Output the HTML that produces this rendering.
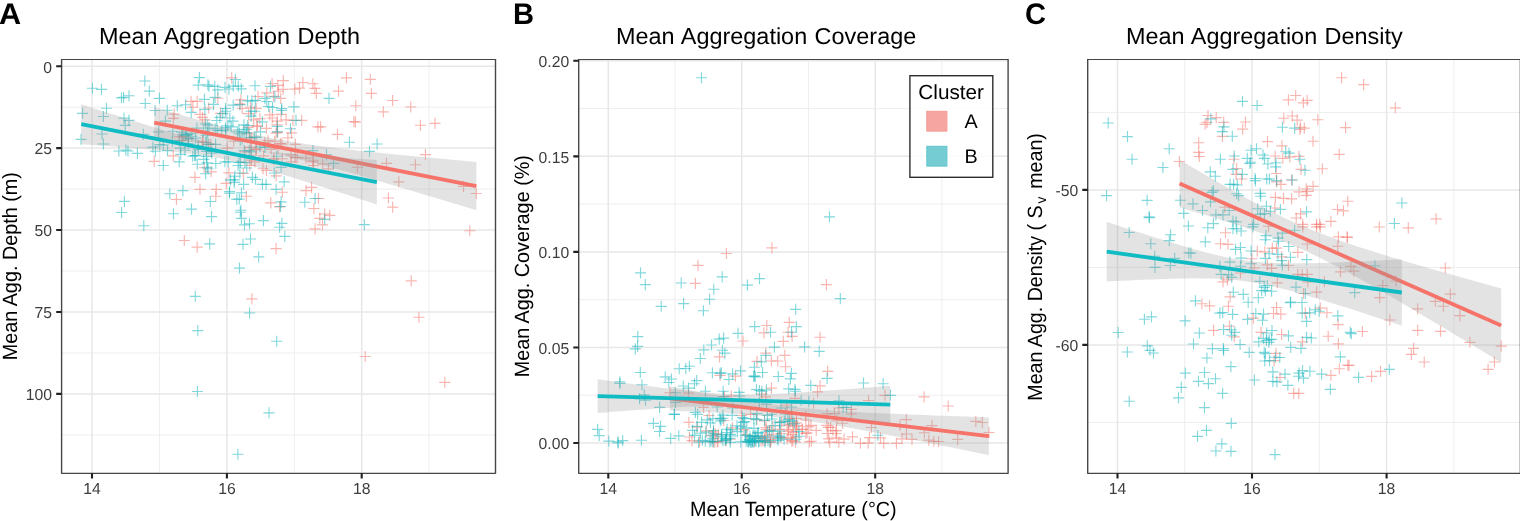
<!DOCTYPE html>
<html lang="en"><head><meta charset="utf-8"><title>Mean Aggregation vs Temperature</title>
<style>html,body{margin:0;padding:0;background:#fff;}body{width:1520px;height:521px;overflow:hidden;}svg{display:block;}</style>
</head><body>
<svg width="1520" height="521" viewBox="0 0 1520 521" font-family="&quot;Liberation Sans&quot;, Arial, Helvetica, sans-serif" text-rendering="geometricPrecision">
<rect x="0" y="0" width="1520" height="521" fill="#ffffff"/>
<g id="panelA">
<clipPath id="clipA"><rect x="61.6" y="59.7" width="433.9" height="413.5"/></clipPath>
<g clip-path="url(#clipA)">
<path d="M159.45 59.7V473.2M294.3 59.7V473.2M429.1 59.7V473.2M61.6 107.15H495.5M61.6 189.1H495.5M61.6 271H495.5M61.6 352.95H495.5M61.6 434.9H495.5" stroke="#eeeeee" stroke-width="1.0" fill="none"/>
<path d="M92 59.7V473.2M226.9 59.7V473.2M361.7 59.7V473.2M61.6 66.2H495.5M61.6 148.1H495.5M61.6 230.05H495.5M61.6 312H495.5M61.6 393.9H495.5" stroke="#e7e7e8" stroke-width="1.5" fill="none"/>
<g class="pts-a" fill="none" stroke="#F4756C" stroke-width="1.15" stroke-opacity="0.53">
<path d="M168.65 114.1h11.1M174.2 108.55v11.1"/>
<path d="M167.75 118.3h11.1M173.3 112.75v11.1"/>
<path d="M226.15 77.9h11.1M231.7 72.35v11.1"/>
<path d="M266.55 83.5h11.1M272.1 77.95v11.1"/>
<path d="M277.75 80.6h11.1M283.3 75.05v11.1"/>
<path d="M272.25 85.4h11.1M277.8 79.85v11.1"/>
<path d="M277.55 89.3h11.1M283.1 83.75v11.1"/>
<path d="M272.75 91.2h11.1M278.3 85.65v11.1"/>
<path d="M261.25 92.8h11.1M266.8 87.25v11.1"/>
<path d="M252.55 96.5h11.1M258.1 90.95v11.1"/>
<path d="M275.15 98.4h11.1M280.7 92.85v11.1"/>
<path d="M267.95 96.3h11.1M273.5 90.75v11.1"/>
<path d="M191.65 101.3h11.1M197.2 95.75v11.1"/>
<path d="M185.45 101.3h11.1M191 95.75v11.1"/>
<path d="M212.25 98.2h11.1M217.8 92.65v11.1"/>
<path d="M235.35 99.8h11.1M240.9 94.25v11.1"/>
<path d="M234.35 104.1h11.1M239.9 98.55v11.1"/>
<path d="M203.15 108h11.1M208.7 102.45v11.1"/>
<path d="M236.75 108.5h11.1M242.3 102.95v11.1"/>
<path d="M244.95 107.2h11.1M250.5 101.65v11.1"/>
<path d="M250.65 108.3h11.1M256.2 102.75v11.1"/>
<path d="M187.35 107.2h11.1M192.9 101.65v11.1"/>
<path d="M289.25 89.1h11.1M294.8 83.55v11.1"/>
<path d="M293.95 88.1h11.1M299.5 82.55v11.1"/>
<path d="M297.35 82.5h11.1M302.9 76.95v11.1"/>
<path d="M307.35 83.7h11.1M312.9 78.15v11.1"/>
<path d="M309.25 88.4h11.1M314.8 82.85v11.1"/>
<path d="M310.75 93.4h11.1M316.3 87.85v11.1"/>
<path d="M194.45 114.3h11.1M200 108.75v11.1"/>
<path d="M196.95 117.4h11.1M202.5 111.85v11.1"/>
<path d="M199.45 119.9h11.1M205 114.35v11.1"/>
<path d="M215.05 113.4h11.1M220.6 107.85v11.1"/>
<path d="M243.05 113.6h11.1M248.6 108.05v11.1"/>
<path d="M254.35 118.6h11.1M259.9 113.05v11.1"/>
<path d="M248.05 119.9h11.1M253.6 114.35v11.1"/>
<path d="M264.25 114.9h11.1M269.8 109.35v11.1"/>
<path d="M266.75 118h11.1M272.3 112.45v11.1"/>
<path d="M271.75 121.1h11.1M277.3 115.55v11.1"/>
<path d="M280.55 119.9h11.1M286.1 114.35v11.1"/>
<path d="M287.35 120.5h11.1M292.9 114.95v11.1"/>
<path d="M296.15 120.3h11.1M301.7 114.75v11.1"/>
<path d="M275.55 114.3h11.1M281.1 108.75v11.1"/>
<path d="M340.85 77.8h11.1M346.4 72.25v11.1"/>
<path d="M364.75 79.3h11.1M370.3 73.75v11.1"/>
<path d="M332.95 91.1h11.1M338.5 85.55v11.1"/>
<path d="M365.85 93.4h11.1M371.4 87.85v11.1"/>
<path d="M387.05 100.5h11.1M392.6 94.95v11.1"/>
<path d="M350.25 105.7h11.1M355.8 100.15v11.1"/>
<path d="M405.25 107h11.1M410.8 101.45v11.1"/>
<path d="M377.75 111.9h11.1M383.3 106.35v11.1"/>
<path d="M348.35 121.5h11.1M353.9 115.95v11.1"/>
<path d="M349.85 122.1h11.1M355.4 116.55v11.1"/>
<path d="M429.45 123.4h11.1M435 117.85v11.1"/>
<path d="M148.65 161.4h11.1M154.2 155.85v11.1"/>
<path d="M167.75 155.9h11.1M173.3 150.35v11.1"/>
<path d="M174.25 136.9h11.1M179.8 131.35v11.1"/>
<path d="M189.45 177.4h11.1M195 171.85v11.1"/>
<path d="M194.45 189.3h11.1M200 183.75v11.1"/>
<path d="M205.65 171.8h11.1M211.2 166.25v11.1"/>
<path d="M210.65 189.3h11.1M216.2 183.75v11.1"/>
<path d="M220.65 183.4h11.1M226.2 177.85v11.1"/>
<path d="M221.85 148.1h11.1M227.4 142.55v11.1"/>
<path d="M228.15 141.2h11.1M233.7 135.65v11.1"/>
<path d="M243.75 133.1h11.1M249.3 127.55v11.1"/>
<path d="M251.85 126.2h11.1M257.4 120.65v11.1"/>
<path d="M262.45 140.6h11.1M268 135.05v11.1"/>
<path d="M270.55 133.1h11.1M276.1 127.55v11.1"/>
<path d="M274.95 143.5h11.1M280.5 137.95v11.1"/>
<path d="M289.85 144.3h11.1M295.4 138.75v11.1"/>
<path d="M265.55 149.3h11.1M271.1 143.75v11.1"/>
<path d="M258.05 155.9h11.1M263.6 150.35v11.1"/>
<path d="M276.75 158.7h11.1M282.3 153.15v11.1"/>
<path d="M285.55 154.9h11.1M291.1 149.35v11.1"/>
<path d="M285.55 161.8h11.1M291.1 156.25v11.1"/>
<path d="M300.45 158.1h11.1M306 152.55v11.1"/>
<path d="M307.35 161.8h11.1M312.9 156.25v11.1"/>
<path d="M307.95 165.5h11.1M313.5 159.95v11.1"/>
<path d="M244.35 165.5h11.1M249.9 159.95v11.1"/>
<path d="M249.35 161.8h11.1M254.9 156.25v11.1"/>
<path d="M257.45 168.7h11.1M263 163.15v11.1"/>
<path d="M270.55 175.9h11.1M276.1 170.35v11.1"/>
<path d="M306.05 187.4h11.1M311.6 181.85v11.1"/>
<path d="M312.35 126.9h11.1M317.9 121.35v11.1"/>
<path d="M196.95 141.2h11.1M202.5 135.65v11.1"/>
<path d="M239.35 151.8h11.1M244.9 146.25v11.1"/>
<path d="M271.35 124.8h11.1M276.9 119.25v11.1"/>
<path d="M331.95 134.4h11.1M337.5 128.85v11.1"/>
<path d="M315.05 126.9h11.1M320.6 121.35v11.1"/>
<path d="M414.85 125.2h11.1M420.4 119.65v11.1"/>
<path d="M419.85 154.6h11.1M425.4 149.05v11.1"/>
<path d="M380.95 163.4h11.1M386.5 157.85v11.1"/>
<path d="M409.85 164.7h11.1M415.4 159.15v11.1"/>
<path d="M351.85 167.2h11.1M357.4 161.65v11.1"/>
<path d="M393.25 181.8h11.1M398.8 176.25v11.1"/>
<path d="M322.95 168.9h11.1M328.5 163.35v11.1"/>
<path d="M170.85 199.5h11.1M176.4 193.95v11.1"/>
<path d="M178.75 240.5h11.1M184.3 234.95v11.1"/>
<path d="M210.25 196.2h11.1M215.8 190.65v11.1"/>
<path d="M240.85 196.2h11.1M246.4 190.65v11.1"/>
<path d="M265.25 202.9h11.1M270.8 197.35v11.1"/>
<path d="M276.75 192.2h11.1M282.3 186.65v11.1"/>
<path d="M274.05 206.8h11.1M279.6 201.25v11.1"/>
<path d="M300.45 190.6h11.1M306 185.05v11.1"/>
<path d="M308.35 208.5h11.1M313.9 202.95v11.1"/>
<path d="M309.55 228.9h11.1M315.1 223.35v11.1"/>
<path d="M312.95 198.5h11.1M318.5 192.95v11.1"/>
<path d="M191.65 247.1h11.1M197.2 241.55v11.1"/>
<path d="M270.55 248.6h11.1M276.1 243.05v11.1"/>
<path d="M314.25 218.4h11.1M319.8 212.85v11.1"/>
<path d="M382.85 198h11.1M388.4 192.45v11.1"/>
<path d="M387.15 207.1h11.1M392.7 201.55v11.1"/>
<path d="M319.15 214h11.1M324.7 208.45v11.1"/>
<path d="M324.15 215.3h11.1M329.7 209.75v11.1"/>
<path d="M316.95 224.9h11.1M322.5 219.35v11.1"/>
<path d="M457.95 186.4h11.1M463.5 180.85v11.1"/>
<path d="M470.75 193.5h11.1M476.3 187.95v11.1"/>
<path d="M464.25 230.7h11.1M469.8 225.15v11.1"/>
<path d="M246.35 298.8h11.1M251.9 293.25v11.1"/>
<path d="M405.65 280.9h11.1M411.2 275.35v11.1"/>
<path d="M413.35 317.2h11.1M418.9 311.65v11.1"/>
<path d="M359.65 356.5h11.1M365.2 350.95v11.1"/>
<path d="M439.25 382.3h11.1M444.8 376.75v11.1"/>
<path d="M176.15 140.6h11.1M181.7 135.05v11.1"/>
<path d="M177.15 136.4h11.1M182.7 130.85v11.1"/>
<path d="M182.75 138.1h11.1M188.3 132.55v11.1"/>
<path d="M197.55 142.5h11.1M203.1 136.95v11.1"/>
<path d="M198.65 167.7h11.1M204.2 162.15v11.1"/>
<path d="M203.35 144.5h11.1M208.9 138.95v11.1"/>
<path d="M205.25 144.3h11.1M210.8 138.75v11.1"/>
<path d="M223.35 172.8h11.1M228.9 167.25v11.1"/>
<path d="M237.75 173.3h11.1M243.3 167.75v11.1"/>
<path d="M242.75 127.4h11.1M248.3 121.85v11.1"/>
<path d="M244.65 147.4h11.1M250.2 141.85v11.1"/>
<path d="M245.55 138.1h11.1M251.1 132.55v11.1"/>
<path d="M245.85 141.6h11.1M251.4 136.05v11.1"/>
<path d="M245.85 160.1h11.1M251.4 154.55v11.1"/>
<path d="M245.85 155.2h11.1M251.4 149.65v11.1"/>
<path d="M250.25 149.1h11.1M255.8 143.55v11.1"/>
<path d="M250.85 149.3h11.1M256.4 143.75v11.1"/>
<path d="M251.15 125.8h11.1M256.7 120.25v11.1"/>
<path d="M259.15 142.6h11.1M264.7 137.05v11.1"/>
<path d="M260.85 170.5h11.1M266.4 164.95v11.1"/>
<path d="M260.85 128.3h11.1M266.4 122.75v11.1"/>
<path d="M268.15 158.5h11.1M273.7 152.95v11.1"/>
<path d="M268.35 159.7h11.1M273.9 154.15v11.1"/>
<path d="M269.15 141.2h11.1M274.7 135.65v11.1"/>
<path d="M272.05 132.1h11.1M277.6 126.55v11.1"/>
<path d="M272.65 148.2h11.1M278.2 142.65v11.1"/>
<path d="M276.45 144.1h11.1M282 138.55v11.1"/>
<path d="M282.35 137.7h11.1M287.9 132.15v11.1"/>
<path d="M285.95 132.8h11.1M291.5 127.25v11.1"/>
<path d="M289.65 157.3h11.1M295.2 151.75v11.1"/>
<path d="M291.65 157.7h11.1M297.2 152.15v11.1"/>
<path d="M307.75 160.2h11.1M313.3 154.65v11.1"/>
<path d="M317.15 163.8h11.1M322.7 158.25v11.1"/>
</g>
<g class="pts-b" fill="none" stroke="#14B6BD" stroke-width="1.15" stroke-opacity="0.53">
<path d="M86.85 88.2h11.1M92.4 82.65v11.1"/>
<path d="M95.95 89.4h11.1M101.5 83.85v11.1"/>
<path d="M139.25 81h11.1M144.8 75.45v11.1"/>
<path d="M143.75 91.1h11.1M149.3 85.55v11.1"/>
<path d="M153.85 98.3h11.1M159.4 92.75v11.1"/>
<path d="M139.65 103.5h11.1M145.2 97.95v11.1"/>
<path d="M115.95 97.8h11.1M121.5 92.25v11.1"/>
<path d="M118.05 97.2h11.1M123.6 91.65v11.1"/>
<path d="M123.45 95.7h11.1M129 90.15v11.1"/>
<path d="M100.95 108.2h11.1M106.5 102.65v11.1"/>
<path d="M77.05 113.3h11.1M82.6 107.75v11.1"/>
<path d="M97.85 116.5h11.1M103.4 110.95v11.1"/>
<path d="M118.45 118.1h11.1M124 112.55v11.1"/>
<path d="M123.45 120.4h11.1M129 114.85v11.1"/>
<path d="M149.55 110.5h11.1M155.1 104.95v11.1"/>
<path d="M161.75 110.2h11.1M167.3 104.65v11.1"/>
<path d="M171.75 105.7h11.1M177.3 100.15v11.1"/>
<path d="M180.05 104.7h11.1M185.6 99.15v11.1"/>
<path d="M159.85 121.1h11.1M165.4 115.55v11.1"/>
<path d="M193.85 77.6h11.1M199.4 72.05v11.1"/>
<path d="M192.75 85.1h11.1M198.3 79.55v11.1"/>
<path d="M202.35 84.7h11.1M207.9 79.15v11.1"/>
<path d="M203.35 86.1h11.1M208.9 80.55v11.1"/>
<path d="M209.25 86.4h11.1M214.8 80.85v11.1"/>
<path d="M212.25 89.8h11.1M217.8 84.25v11.1"/>
<path d="M219.45 87.4h11.1M225 81.85v11.1"/>
<path d="M223.35 89h11.1M228.9 83.45v11.1"/>
<path d="M229.85 79.5h11.1M235.4 73.95v11.1"/>
<path d="M232.75 86.1h11.1M238.3 80.55v11.1"/>
<path d="M235.75 88.8h11.1M241.3 83.25v11.1"/>
<path d="M227.65 86.1h11.1M233.2 80.55v11.1"/>
<path d="M249.45 85.7h11.1M255 80.15v11.1"/>
<path d="M264.85 86.4h11.1M270.4 80.85v11.1"/>
<path d="M198.85 99.3h11.1M204.4 93.75v11.1"/>
<path d="M209.45 97.4h11.1M215 91.85v11.1"/>
<path d="M207.95 104.4h11.1M213.5 98.85v11.1"/>
<path d="M199.35 109.4h11.1M204.9 103.85v11.1"/>
<path d="M227.65 105.1h11.1M233.2 99.55v11.1"/>
<path d="M234.35 104.6h11.1M239.9 99.05v11.1"/>
<path d="M242.05 100.8h11.1M247.6 95.25v11.1"/>
<path d="M246.35 100.8h11.1M251.9 95.25v11.1"/>
<path d="M249.75 100.3h11.1M255.3 94.75v11.1"/>
<path d="M259.35 98.4h11.1M264.9 92.85v11.1"/>
<path d="M261.25 101.5h11.1M266.8 95.95v11.1"/>
<path d="M263.15 106.5h11.1M268.7 100.95v11.1"/>
<path d="M269.35 96.9h11.1M274.9 91.35v11.1"/>
<path d="M266.95 107.5h11.1M272.5 101.95v11.1"/>
<path d="M276.15 108.5h11.1M281.7 102.95v11.1"/>
<path d="M219.95 108.5h11.1M225.5 102.95v11.1"/>
<path d="M288.35 106.9h11.1M293.9 101.35v11.1"/>
<path d="M185.65 112.4h11.1M191.2 106.85v11.1"/>
<path d="M220.05 111.2h11.1M225.6 105.65v11.1"/>
<path d="M217.15 113.6h11.1M222.7 108.05v11.1"/>
<path d="M224.35 118h11.1M229.9 112.45v11.1"/>
<path d="M227.45 121.1h11.1M233 115.55v11.1"/>
<path d="M214.35 117.4h11.1M219.9 111.85v11.1"/>
<path d="M211.25 120.5h11.1M216.8 114.95v11.1"/>
<path d="M245.55 111.2h11.1M251.1 105.65v11.1"/>
<path d="M249.35 111.2h11.1M254.9 105.65v11.1"/>
<path d="M245.55 116.1h11.1M251.1 110.55v11.1"/>
<path d="M256.85 121.8h11.1M262.4 116.25v11.1"/>
<path d="M290.45 120.3h11.1M296 114.75v11.1"/>
<path d="M276.15 110.3h11.1M281.7 104.75v11.1"/>
<path d="M323.45 98.4h11.1M329 92.85v11.1"/>
<path d="M75.45 139.3h11.1M81 133.75v11.1"/>
<path d="M96.45 134h11.1M102 128.45v11.1"/>
<path d="M97.85 144h11.1M103.4 138.45v11.1"/>
<path d="M113.35 151h11.1M118.9 145.45v11.1"/>
<path d="M120.35 150h11.1M125.9 144.45v11.1"/>
<path d="M122.45 151h11.1M128 145.45v11.1"/>
<path d="M131.85 153.4h11.1M137.4 147.85v11.1"/>
<path d="M119.65 125.4h11.1M125.2 119.85v11.1"/>
<path d="M137.75 134.4h11.1M143.3 128.85v11.1"/>
<path d="M153.05 131.9h11.1M158.6 126.35v11.1"/>
<path d="M147.35 147.1h11.1M152.9 141.55v11.1"/>
<path d="M149.85 151.2h11.1M155.4 145.65v11.1"/>
<path d="M154.25 144.6h11.1M159.8 139.05v11.1"/>
<path d="M157.75 145h11.1M163.3 139.45v11.1"/>
<path d="M161.95 150.6h11.1M167.5 145.05v11.1"/>
<path d="M157.75 165.5h11.1M163.3 159.95v11.1"/>
<path d="M167.35 131.2h11.1M172.9 125.65v11.1"/>
<path d="M166.75 141.2h11.1M172.3 135.65v11.1"/>
<path d="M174.85 148.1h11.1M180.4 142.55v11.1"/>
<path d="M175.25 154.3h11.1M180.8 148.75v11.1"/>
<path d="M177.35 134.4h11.1M182.9 128.85v11.1"/>
<path d="M180.45 135h11.1M186 129.45v11.1"/>
<path d="M182.95 138.7h11.1M188.5 133.15v11.1"/>
<path d="M191.35 128.1h11.1M196.9 122.55v11.1"/>
<path d="M186.35 136.2h11.1M191.9 130.65v11.1"/>
<path d="M190.05 138.1h11.1M195.6 132.55v11.1"/>
<path d="M200.65 142.5h11.1M206.2 136.95v11.1"/>
<path d="M202.55 144.3h11.1M208.1 138.75v11.1"/>
<path d="M210.05 144.3h11.1M215.6 138.75v11.1"/>
<path d="M190.05 155.6h11.1M195.6 150.05v11.1"/>
<path d="M187.15 156.2h11.1M192.7 150.65v11.1"/>
<path d="M198.15 159.3h11.1M203.7 153.75v11.1"/>
<path d="M206.25 153.1h11.1M211.8 147.55v11.1"/>
<path d="M202.55 168.7h11.1M208.1 163.15v11.1"/>
<path d="M201.65 167.2h11.1M207.2 161.65v11.1"/>
<path d="M219.35 161.8h11.1M224.9 156.25v11.1"/>
<path d="M220.05 130h11.1M225.6 124.45v11.1"/>
<path d="M216.25 130.6h11.1M221.8 125.05v11.1"/>
<path d="M225.65 126.9h11.1M231.2 121.35v11.1"/>
<path d="M231.85 131.9h11.1M237.4 126.35v11.1"/>
<path d="M233.75 133.7h11.1M239.3 128.15v11.1"/>
<path d="M240.55 129.4h11.1M246.1 123.85v11.1"/>
<path d="M244.35 137.5h11.1M249.9 131.95v11.1"/>
<path d="M248.75 136.9h11.1M254.3 131.35v11.1"/>
<path d="M250.55 137.5h11.1M256.1 131.95v11.1"/>
<path d="M254.95 131.9h11.1M260.5 126.35v11.1"/>
<path d="M243.75 150.6h11.1M249.3 145.05v11.1"/>
<path d="M245.55 151.8h11.1M251.1 146.25v11.1"/>
<path d="M254.35 146.8h11.1M259.9 141.25v11.1"/>
<path d="M259.35 147.5h11.1M264.9 141.95v11.1"/>
<path d="M271.75 131.9h11.1M277.3 126.35v11.1"/>
<path d="M284.85 128.7h11.1M290.4 123.15v11.1"/>
<path d="M307.35 150.6h11.1M312.9 145.05v11.1"/>
<path d="M271.15 156.2h11.1M276.7 150.65v11.1"/>
<path d="M232.45 165.5h11.1M238 159.95v11.1"/>
<path d="M234.95 162.4h11.1M240.5 156.85v11.1"/>
<path d="M239.35 162.4h11.1M244.9 156.85v11.1"/>
<path d="M241.25 168h11.1M246.8 162.45v11.1"/>
<path d="M234.35 173h11.1M239.9 167.45v11.1"/>
<path d="M229.35 176.2h11.1M234.9 170.65v11.1"/>
<path d="M275.55 167.4h11.1M281.1 161.85v11.1"/>
<path d="M268.65 173h11.1M274.2 167.45v11.1"/>
<path d="M278.65 181.8h11.1M284.2 176.25v11.1"/>
<path d="M224.95 179.9h11.1M230.5 174.35v11.1"/>
<path d="M228.75 179.9h11.1M234.3 174.35v11.1"/>
<path d="M228.75 182.4h11.1M234.3 176.85v11.1"/>
<path d="M238.05 184.3h11.1M243.6 178.75v11.1"/>
<path d="M246.85 177.4h11.1M252.4 171.85v11.1"/>
<path d="M249.95 179.3h11.1M255.5 173.75v11.1"/>
<path d="M256.85 184.3h11.1M262.4 178.75v11.1"/>
<path d="M260.55 184.3h11.1M266.1 178.75v11.1"/>
<path d="M270.55 189.3h11.1M276.1 183.75v11.1"/>
<path d="M202.25 125.1h11.1M207.8 119.55v11.1"/>
<path d="M203.65 128h11.1M209.2 122.45v11.1"/>
<path d="M222.35 125.7h11.1M227.9 120.15v11.1"/>
<path d="M219.95 127.8h11.1M225.5 122.25v11.1"/>
<path d="M271.75 126.4h11.1M277.3 120.85v11.1"/>
<path d="M343.85 142.2h11.1M349.4 136.65v11.1"/>
<path d="M371.55 144h11.1M377.1 138.45v11.1"/>
<path d="M363.95 151.4h11.1M369.5 145.85v11.1"/>
<path d="M320.95 154.9h11.1M326.5 149.35v11.1"/>
<path d="M327.95 163.4h11.1M333.5 157.85v11.1"/>
<path d="M118.85 201.4h11.1M124.4 195.85v11.1"/>
<path d="M116.05 212.5h11.1M121.6 206.95v11.1"/>
<path d="M138.25 225.7h11.1M143.8 220.15v11.1"/>
<path d="M164.25 193.7h11.1M169.8 188.15v11.1"/>
<path d="M177.35 190.6h11.1M182.9 185.05v11.1"/>
<path d="M167.95 213.7h11.1M173.5 208.15v11.1"/>
<path d="M185.95 209.1h11.1M191.5 203.55v11.1"/>
<path d="M204.75 201.5h11.1M210.3 195.95v11.1"/>
<path d="M205.95 216.6h11.1M211.5 211.05v11.1"/>
<path d="M204.15 243.9h11.1M209.7 238.35v11.1"/>
<path d="M223.95 191.5h11.1M229.5 185.95v11.1"/>
<path d="M223.95 193.1h11.1M229.5 187.55v11.1"/>
<path d="M235.85 192.7h11.1M241.4 187.15v11.1"/>
<path d="M231.25 199.4h11.1M236.8 193.85v11.1"/>
<path d="M233.75 199h11.1M239.3 193.45v11.1"/>
<path d="M235.35 210.2h11.1M240.9 204.65v11.1"/>
<path d="M234.75 212.2h11.1M240.3 206.65v11.1"/>
<path d="M235.85 218.4h11.1M241.4 212.85v11.1"/>
<path d="M238.95 224.9h11.1M244.5 219.35v11.1"/>
<path d="M243.95 223.7h11.1M249.5 218.15v11.1"/>
<path d="M257.85 220.6h11.1M263.4 215.05v11.1"/>
<path d="M276.35 223.4h11.1M281.9 217.85v11.1"/>
<path d="M274.05 227.2h11.1M279.6 221.65v11.1"/>
<path d="M275.55 201.9h11.1M281.1 196.35v11.1"/>
<path d="M274.95 206.5h11.1M280.5 200.95v11.1"/>
<path d="M279.25 236.4h11.1M284.8 230.85v11.1"/>
<path d="M244.95 239h11.1M250.5 233.45v11.1"/>
<path d="M237.45 244.3h11.1M243 238.75v11.1"/>
<path d="M299.25 202.2h11.1M304.8 196.65v11.1"/>
<path d="M309.55 198.5h11.1M315.1 192.95v11.1"/>
<path d="M319.15 219.3h11.1M324.7 213.75v11.1"/>
<path d="M358.75 224.6h11.1M364.3 219.05v11.1"/>
<path d="M189.75 296.3h11.1M195.3 290.75v11.1"/>
<path d="M192.25 330.6h11.1M197.8 325.05v11.1"/>
<path d="M233.95 268.1h11.1M239.5 262.55v11.1"/>
<path d="M244.05 313h11.1M249.6 307.45v11.1"/>
<path d="M253.15 256.9h11.1M258.7 251.35v11.1"/>
<path d="M271.15 341.2h11.1M276.7 335.65v11.1"/>
<path d="M191.85 391.5h11.1M197.4 385.95v11.1"/>
<path d="M232.35 454.2h11.1M237.9 448.65v11.1"/>
<path d="M263.45 412.8h11.1M269 407.25v11.1"/>
<path d="M173.65 140.7h11.1M179.2 135.15v11.1"/>
<path d="M173.65 161.8h11.1M179.2 156.25v11.1"/>
<path d="M176.05 132.2h11.1M181.6 126.65v11.1"/>
<path d="M179.45 150.2h11.1M185 144.65v11.1"/>
<path d="M179.65 135.5h11.1M185.2 129.95v11.1"/>
<path d="M181.55 134.5h11.1M187.1 128.95v11.1"/>
<path d="M182.55 143.6h11.1M188.1 138.05v11.1"/>
<path d="M184.45 133.6h11.1M190 128.05v11.1"/>
<path d="M189.05 155.5h11.1M194.6 149.95v11.1"/>
<path d="M191.75 164.2h11.1M197.3 158.65v11.1"/>
<path d="M192.55 145.8h11.1M198.1 140.25v11.1"/>
<path d="M192.75 149.3h11.1M198.3 143.75v11.1"/>
<path d="M197.75 132.1h11.1M203.3 126.55v11.1"/>
<path d="M200.05 173.7h11.1M205.6 168.15v11.1"/>
<path d="M200.15 123.8h11.1M205.7 118.25v11.1"/>
<path d="M200.45 135.2h11.1M206 129.65v11.1"/>
<path d="M200.85 151.3h11.1M206.4 145.75v11.1"/>
<path d="M200.85 156.4h11.1M206.4 150.85v11.1"/>
<path d="M201.45 162.9h11.1M207 157.35v11.1"/>
<path d="M202.15 133.3h11.1M207.7 127.75v11.1"/>
<path d="M205.85 151.4h11.1M211.4 145.85v11.1"/>
<path d="M209.65 128.7h11.1M215.2 123.15v11.1"/>
<path d="M210.25 163.5h11.1M215.8 157.95v11.1"/>
<path d="M211.65 130.4h11.1M217.2 124.85v11.1"/>
<path d="M222.75 161.9h11.1M228.3 156.35v11.1"/>
<path d="M233.45 162.3h11.1M239 156.75v11.1"/>
<path d="M233.45 130h11.1M239 124.45v11.1"/>
<path d="M234.65 140.7h11.1M240.2 135.15v11.1"/>
<path d="M236.55 139.2h11.1M242.1 133.65v11.1"/>
<path d="M238.45 131.8h11.1M244 126.25v11.1"/>
<path d="M238.45 124.8h11.1M244 119.25v11.1"/>
<path d="M238.65 150.6h11.1M244.2 145.05v11.1"/>
<path d="M240.85 132.9h11.1M246.4 127.35v11.1"/>
<path d="M242.15 125.5h11.1M247.7 119.95v11.1"/>
</g>
<path d="M154.21 107.02L162.26 109.39L170.32 111.75L178.37 114.09L186.43 116.41L194.48 118.7L202.54 120.96L210.59 123.19L218.64 125.38L226.7 127.51L234.75 129.59L242.81 131.59L250.86 133.52L258.92 135.35L266.97 137.08L275.02 138.71L283.08 140.23L291.13 141.65L299.19 142.96L307.24 144.19L315.3 145.34L323.35 146.43L331.4 147.45L339.46 148.43L347.51 149.37L355.57 150.27L363.62 151.14L371.68 151.99L379.73 152.82L387.78 153.64L395.84 154.44L403.89 155.22L411.95 156L420 156.76L428.06 157.52L436.11 158.27L444.17 159.02L452.22 159.76L460.27 160.49L468.33 161.22L476.38 161.95L476.38 210.25L468.33 207.81L460.27 205.36L452.22 202.92L444.17 200.48L436.11 198.05L428.06 195.63L420 193.21L411.95 190.8L403.89 188.4L395.84 186.01L387.78 183.64L379.73 181.28L371.68 178.93L363.62 176.61L355.57 174.31L347.51 172.03L339.46 169.8L331.4 167.6L323.35 165.45L315.3 163.36L307.24 161.33L299.19 159.39L291.13 157.53L283.08 155.77L275.02 154.11L266.97 152.57L258.92 151.12L250.86 149.78L242.81 148.53L234.75 147.36L226.7 146.26L218.64 145.22L210.59 144.23L202.54 143.29L194.48 142.38L186.43 141.49L178.37 140.64L170.32 139.8L162.26 138.99L154.21 138.18Z" fill="#999999" fill-opacity="0.275"/>
<line x1="154.21" y1="122.6" x2="476.38" y2="186.1" stroke="#F6736A" stroke-width="3.8"/>
<path d="M81.22 104.27L88.61 106.65L96 109.02L103.39 111.39L110.78 113.74L118.17 116.09L125.56 118.42L132.95 120.74L140.34 123.04L147.73 125.31L155.12 127.56L162.51 129.77L169.9 131.94L177.29 134.06L184.68 136.11L192.07 138.09L199.46 139.96L206.85 141.72L214.24 143.36L221.63 144.85L229.02 146.2L236.41 147.41L243.81 148.49L251.2 149.48L258.59 150.37L265.98 151.18L273.37 151.94L280.76 152.65L288.15 153.32L295.54 153.96L302.93 154.58L310.32 155.17L317.71 155.75L325.1 156.31L332.49 156.86L339.88 157.4L347.27 157.93L354.66 158.45L362.05 158.97L369.44 159.48L376.83 159.98L376.83 204.42L369.44 202.02L362.05 199.63L354.66 197.25L347.27 194.87L339.88 192.5L332.49 190.14L325.1 187.79L317.71 185.45L310.32 183.13L302.93 180.82L295.54 178.54L288.15 176.28L280.76 174.05L273.37 171.86L265.98 169.72L258.59 167.63L251.2 165.62L243.81 163.71L236.41 161.89L229.02 160.2L221.63 158.65L214.24 157.24L206.85 155.98L199.46 154.84L192.07 153.81L184.68 152.89L177.29 152.04L169.9 151.26L162.51 150.53L155.12 149.84L147.73 149.19L140.34 148.56L132.95 147.96L125.56 147.38L118.17 146.81L110.78 146.26L103.39 145.71L96 145.18L88.61 144.65L81.22 144.13Z" fill="#999999" fill-opacity="0.275"/>
<line x1="81.22" y1="124.2" x2="376.83" y2="182.2" stroke="#10BCC3" stroke-width="3.8"/>
</g>
<path d="M61.6 58.9V473.85M495.5 58.9V473.85" fill="none" stroke="#464646" stroke-width="1.4"/>
<path d="M61.6 59.4H495.5M61.6 473.35H495.5" fill="none" stroke="#464646" stroke-width="1.05"/>
<path d="M92 473.2v5.4M226.9 473.2v5.4M361.7 473.2v5.4M61.6 66.2h-5.4M61.6 148.1h-5.4M61.6 230.05h-5.4M61.6 312h-5.4M61.6 393.9h-5.4" stroke="#202020" stroke-width="2.1" fill="none"/>
<g font-size="15.9" fill="#3d3d3d">
<text transform="translate(92,493.7) scale(0.99,1)" text-anchor="middle">14</text>
<text transform="translate(226.9,493.7) scale(0.99,1)" text-anchor="middle">16</text>
<text transform="translate(361.7,493.7) scale(0.99,1)" text-anchor="middle">18</text>
<text transform="translate(52.1,72.5) scale(0.99,1)" text-anchor="end">0</text>
<text transform="translate(52.1,154.4) scale(0.99,1)" text-anchor="end">25</text>
<text transform="translate(52.1,236.35) scale(0.99,1)" text-anchor="end">50</text>
<text transform="translate(52.1,318.3) scale(0.99,1)" text-anchor="end">75</text>
<text transform="translate(52.1,400.2) scale(0.99,1)" text-anchor="end">100</text>
</g>
</g>
<g id="panelB">
<clipPath id="clipB"><rect x="578.7" y="59.7" width="429.4" height="413.5"/></clipPath>
<g clip-path="url(#clipB)">
<path d="M675 59.7V473.2M808.5 59.7V473.2M941.9 59.7V473.2M578.7 395.2H1008.1M578.7 299.7H1008.1M578.7 204.1H1008.1M578.7 108.6H1008.1" stroke="#eeeeee" stroke-width="1.0" fill="none"/>
<path d="M608.3 59.7V473.2M741.75 59.7V473.2M875.2 59.7V473.2M578.7 443H1008.1M578.7 347.45H1008.1M578.7 251.9H1008.1M578.7 156.35H1008.1M578.7 60.8H1008.1" stroke="#e7e7e8" stroke-width="1.5" fill="none"/>
<g class="pts-a" fill="none" stroke="#F4756C" stroke-width="1.15" stroke-opacity="0.53">
<path d="M720.85 253.5h11.1M726.4 247.95v11.1"/>
<path d="M766.35 247.9h11.1M771.9 242.35v11.1"/>
<path d="M692.45 265.4h11.1M698 259.85v11.1"/>
<path d="M689.85 283.4h11.1M695.4 277.85v11.1"/>
<path d="M761.25 325.5h11.1M766.8 319.95v11.1"/>
<path d="M758.35 332.9h11.1M763.9 327.35v11.1"/>
<path d="M737.45 341h11.1M743 335.45v11.1"/>
<path d="M713.95 356.9h11.1M719.5 351.35v11.1"/>
<path d="M760.25 353.1h11.1M765.8 347.55v11.1"/>
<path d="M820.85 284.6h11.1M826.4 279.05v11.1"/>
<path d="M783.65 322.4h11.1M789.2 316.85v11.1"/>
<path d="M782.55 332.2h11.1M788.1 326.65v11.1"/>
<path d="M786.55 336.4h11.1M792.1 330.85v11.1"/>
<path d="M814.55 337.2h11.1M820.1 331.65v11.1"/>
<path d="M777.75 341.4h11.1M783.3 335.85v11.1"/>
<path d="M779.25 355.4h11.1M784.8 349.85v11.1"/>
<path d="M664.25 392.7h11.1M669.8 387.15v11.1"/>
<path d="M682.95 393.1h11.1M688.5 387.55v11.1"/>
<path d="M683.35 422.4h11.1M688.9 416.85v11.1"/>
<path d="M697.95 407.4h11.1M703.5 401.85v11.1"/>
<path d="M703.55 415.5h11.1M709.1 409.95v11.1"/>
<path d="M714.55 375.4h11.1M720.1 369.85v11.1"/>
<path d="M729.85 376.1h11.1M735.4 370.55v11.1"/>
<path d="M751.45 361.4h11.1M757 355.85v11.1"/>
<path d="M765.85 361h11.1M771.4 355.45v11.1"/>
<path d="M772.15 361h11.1M777.7 355.45v11.1"/>
<path d="M779.95 366.7h11.1M785.5 361.15v11.1"/>
<path d="M765.85 388.1h11.1M771.4 382.55v11.1"/>
<path d="M756.25 394.1h11.1M761.8 388.55v11.1"/>
<path d="M760.15 396.9h11.1M765.7 391.35v11.1"/>
<path d="M725.75 396h11.1M731.3 390.45v11.1"/>
<path d="M718.85 396.5h11.1M724.4 390.95v11.1"/>
<path d="M789.35 398.4h11.1M794.9 392.85v11.1"/>
<path d="M781.25 405.1h11.1M786.8 399.55v11.1"/>
<path d="M822.05 371.3h11.1M827.6 365.75v11.1"/>
<path d="M814.55 385.9h11.1M820.1 380.35v11.1"/>
<path d="M811.95 391.9h11.1M817.5 386.35v11.1"/>
<path d="M862.95 400.5h11.1M868.5 394.95v11.1"/>
<path d="M879.45 395.3h11.1M885 389.75v11.1"/>
<path d="M808.05 403.2h11.1M813.6 397.65v11.1"/>
<path d="M833.25 408h11.1M838.8 402.45v11.1"/>
<path d="M845.75 409.4h11.1M851.3 403.85v11.1"/>
<path d="M845.75 414h11.1M851.3 408.45v11.1"/>
<path d="M821.55 413.8h11.1M827.1 408.25v11.1"/>
<path d="M837.05 423.2h11.1M842.6 417.65v11.1"/>
<path d="M865.85 427.5h11.1M871.4 421.95v11.1"/>
<path d="M810.65 430.4h11.1M816.2 424.85v11.1"/>
<path d="M805.45 425.4h11.1M811 419.85v11.1"/>
<path d="M822.65 427.3h11.1M828.2 421.75v11.1"/>
<path d="M821.75 433.5h11.1M827.3 427.95v11.1"/>
<path d="M827.45 430.6h11.1M833 425.05v11.1"/>
<path d="M830.85 430.6h11.1M836.4 425.05v11.1"/>
<path d="M830.35 433.5h11.1M835.9 427.95v11.1"/>
<path d="M823.15 438.8h11.1M828.7 433.25v11.1"/>
<path d="M824.15 442.1h11.1M829.7 436.55v11.1"/>
<path d="M805.85 441.2h11.1M811.4 435.65v11.1"/>
<path d="M833.25 442.3h11.1M838.8 436.75v11.1"/>
<path d="M838.55 439.1h11.1M844.1 433.55v11.1"/>
<path d="M846.95 436.9h11.1M852.5 431.35v11.1"/>
<path d="M854.85 443.3h11.1M860.4 437.75v11.1"/>
<path d="M862.55 443.1h11.1M868.1 437.55v11.1"/>
<path d="M863.95 437.6h11.1M869.5 432.05v11.1"/>
<path d="M878.15 443.3h11.1M883.7 437.75v11.1"/>
<path d="M874.95 437.8h11.1M880.5 432.25v11.1"/>
<path d="M890.85 443.4h11.1M896.4 437.85v11.1"/>
<path d="M894.45 425.4h11.1M900 419.85v11.1"/>
<path d="M900.75 419.6h11.1M906.3 414.05v11.1"/>
<path d="M900.85 434h11.1M906.4 428.45v11.1"/>
<path d="M896.55 438.8h11.1M902.1 433.25v11.1"/>
<path d="M918.55 396.9h11.1M924.1 391.35v11.1"/>
<path d="M942.65 406h11.1M948.2 400.45v11.1"/>
<path d="M926.35 425.6h11.1M931.9 420.05v11.1"/>
<path d="M918.85 432.7h11.1M924.4 427.15v11.1"/>
<path d="M923.25 440.1h11.1M928.8 434.55v11.1"/>
<path d="M928.35 441.3h11.1M933.9 435.75v11.1"/>
<path d="M933.05 441.5h11.1M938.6 435.95v11.1"/>
<path d="M952.15 439.4h11.1M957.7 433.85v11.1"/>
<path d="M970.25 421.4h11.1M975.8 415.85v11.1"/>
<path d="M976.75 422.5h11.1M982.3 416.95v11.1"/>
<path d="M983.45 432.5h11.1M989 426.95v11.1"/>
<path d="M906.45 439.4h11.1M912 433.85v11.1"/>
<path d="M683.85 437h11.1M689.4 431.45v11.1"/>
<path d="M686.45 440.6h11.1M692 435.05v11.1"/>
<path d="M691.55 427.1h11.1M697.1 421.55v11.1"/>
<path d="M694.05 441.7h11.1M699.6 436.15v11.1"/>
<path d="M700.65 430.9h11.1M706.2 425.35v11.1"/>
<path d="M706.75 435.9h11.1M712.3 430.35v11.1"/>
<path d="M707.35 441.9h11.1M712.9 436.35v11.1"/>
<path d="M708.05 431.8h11.1M713.6 426.25v11.1"/>
<path d="M709.25 442.1h11.1M714.8 436.55v11.1"/>
<path d="M709.85 434h11.1M715.4 428.45v11.1"/>
<path d="M711.75 441.8h11.1M717.3 436.25v11.1"/>
<path d="M712.35 441.5h11.1M717.9 435.95v11.1"/>
<path d="M712.75 434.3h11.1M718.3 428.75v11.1"/>
<path d="M718.15 420.5h11.1M723.7 414.95v11.1"/>
<path d="M720.35 441h11.1M725.9 435.45v11.1"/>
<path d="M724.75 439.2h11.1M730.3 433.65v11.1"/>
<path d="M726.95 427.9h11.1M732.5 422.35v11.1"/>
<path d="M735.85 415.5h11.1M741.4 409.95v11.1"/>
<path d="M738.35 429.6h11.1M743.9 424.05v11.1"/>
<path d="M741.45 435.1h11.1M747 429.55v11.1"/>
<path d="M745.05 414.3h11.1M750.6 408.75v11.1"/>
<path d="M748.85 442h11.1M754.4 436.45v11.1"/>
<path d="M751.35 419.2h11.1M756.9 413.65v11.1"/>
<path d="M752.55 437.8h11.1M758.1 432.25v11.1"/>
<path d="M755.55 440.7h11.1M761.1 435.15v11.1"/>
<path d="M757.45 441.1h11.1M763 435.55v11.1"/>
<path d="M758.75 437.3h11.1M764.3 431.75v11.1"/>
<path d="M759.05 420.9h11.1M764.6 415.35v11.1"/>
<path d="M759.35 440.1h11.1M764.9 434.55v11.1"/>
<path d="M760.55 429.4h11.1M766.1 423.85v11.1"/>
<path d="M760.55 427.5h11.1M766.1 421.95v11.1"/>
<path d="M760.55 435.7h11.1M766.1 430.15v11.1"/>
<path d="M763.95 430.5h11.1M769.5 424.95v11.1"/>
<path d="M764.75 441.8h11.1M770.3 436.25v11.1"/>
<path d="M764.95 441.9h11.1M770.5 436.35v11.1"/>
<path d="M765.55 439.6h11.1M771.1 434.05v11.1"/>
<path d="M767.35 426h11.1M772.9 420.45v11.1"/>
<path d="M767.65 434.2h11.1M773.2 428.65v11.1"/>
<path d="M772.35 437.2h11.1M777.9 431.65v11.1"/>
<path d="M773.75 429.3h11.1M779.3 423.75v11.1"/>
<path d="M775.45 433.5h11.1M781 427.95v11.1"/>
<path d="M775.45 437.5h11.1M781 431.95v11.1"/>
<path d="M776.05 421.8h11.1M781.6 416.25v11.1"/>
<path d="M781.55 425.4h11.1M787.1 419.85v11.1"/>
<path d="M781.55 438.8h11.1M787.1 433.25v11.1"/>
<path d="M782.65 429.7h11.1M788.2 424.15v11.1"/>
<path d="M782.85 431.3h11.1M788.4 425.75v11.1"/>
<path d="M784.25 418.6h11.1M789.8 413.05v11.1"/>
<path d="M784.35 424.2h11.1M789.9 418.65v11.1"/>
<path d="M784.75 437.8h11.1M790.3 432.25v11.1"/>
<path d="M785.95 414.2h11.1M791.5 408.65v11.1"/>
<path d="M786.25 441.1h11.1M791.8 435.55v11.1"/>
<path d="M786.55 434.5h11.1M792.1 428.95v11.1"/>
<path d="M787.15 423.2h11.1M792.7 417.65v11.1"/>
<path d="M787.25 440.6h11.1M792.8 435.05v11.1"/>
<path d="M788.05 432.4h11.1M793.6 426.85v11.1"/>
<path d="M789.95 442.1h11.1M795.5 436.55v11.1"/>
<path d="M790.05 426.5h11.1M795.6 420.95v11.1"/>
<path d="M790.85 422.9h11.1M796.4 417.35v11.1"/>
<path d="M790.85 429.7h11.1M796.4 424.15v11.1"/>
<path d="M790.85 418.5h11.1M796.4 412.95v11.1"/>
<path d="M790.85 437.2h11.1M796.4 431.65v11.1"/>
<path d="M791.45 425.5h11.1M797 419.95v11.1"/>
<path d="M796.65 429h11.1M802.2 423.45v11.1"/>
<path d="M796.75 429.5h11.1M802.3 423.95v11.1"/>
<path d="M800.25 433.4h11.1M805.8 427.85v11.1"/>
<path d="M800.25 420h11.1M805.8 414.45v11.1"/>
<path d="M800.25 415.7h11.1M805.8 410.15v11.1"/>
<path d="M801.45 432.8h11.1M807 427.25v11.1"/>
<path d="M803.25 426.6h11.1M808.8 421.05v11.1"/>
<path d="M803.85 441.9h11.1M809.4 436.35v11.1"/>
<path d="M821.25 425.3h11.1M826.8 419.75v11.1"/>
<path d="M825.05 427.2h11.1M830.6 421.65v11.1"/>
<path d="M828.95 413.6h11.1M834.5 408.05v11.1"/>
<path d="M831.15 420.7h11.1M836.7 415.15v11.1"/>
<path d="M831.15 437.9h11.1M836.7 432.35v11.1"/>
</g>
<g class="pts-b" fill="none" stroke="#14B6BD" stroke-width="1.15" stroke-opacity="0.53">
<path d="M695.95 77.7h11.1M701.5 72.15v11.1"/>
<path d="M823.95 216.8h11.1M829.5 211.25v11.1"/>
<path d="M634.95 272.9h11.1M640.5 267.35v11.1"/>
<path d="M639.75 284.6h11.1M645.3 279.05v11.1"/>
<path d="M675.65 283h11.1M681.2 277.45v11.1"/>
<path d="M716.65 276.9h11.1M722.2 271.35v11.1"/>
<path d="M708.25 289.2h11.1M713.8 283.65v11.1"/>
<path d="M704.05 299.2h11.1M709.6 293.65v11.1"/>
<path d="M678.05 303.6h11.1M683.6 298.05v11.1"/>
<path d="M655.65 306.3h11.1M661.2 300.75v11.1"/>
<path d="M697.85 310.7h11.1M703.4 305.15v11.1"/>
<path d="M741.85 285.1h11.1M747.4 279.55v11.1"/>
<path d="M753.95 278.6h11.1M759.5 273.05v11.1"/>
<path d="M632.25 336.6h11.1M637.8 331.05v11.1"/>
<path d="M632.05 346.4h11.1M637.6 340.85v11.1"/>
<path d="M629.75 348.9h11.1M635.3 343.35v11.1"/>
<path d="M749.15 326.6h11.1M754.7 321.05v11.1"/>
<path d="M765.05 332.2h11.1M770.6 326.65v11.1"/>
<path d="M732.45 333.3h11.1M738 327.75v11.1"/>
<path d="M718.05 338.1h11.1M723.6 332.55v11.1"/>
<path d="M713.65 339.1h11.1M719.2 333.55v11.1"/>
<path d="M705.95 345h11.1M711.5 339.45v11.1"/>
<path d="M698.25 349.8h11.1M703.8 344.25v11.1"/>
<path d="M716.85 350.2h11.1M722.4 344.65v11.1"/>
<path d="M719.35 353.1h11.1M724.9 347.55v11.1"/>
<path d="M694.75 358.5h11.1M700.3 352.95v11.1"/>
<path d="M768.85 347.1h11.1M774.4 341.55v11.1"/>
<path d="M760.25 355.4h11.1M765.8 349.85v11.1"/>
<path d="M834.75 298.6h11.1M840.3 293.05v11.1"/>
<path d="M790.15 309.3h11.1M795.7 303.75v11.1"/>
<path d="M790.75 326.6h11.1M796.3 321.05v11.1"/>
<path d="M785.95 332.2h11.1M791.5 326.65v11.1"/>
<path d="M799.05 346.9h11.1M804.6 341.35v11.1"/>
<path d="M813.65 351.4h11.1M819.2 345.85v11.1"/>
<path d="M634.75 372.5h11.1M640.3 366.95v11.1"/>
<path d="M614.35 381.8h11.1M619.9 376.25v11.1"/>
<path d="M614.35 383.5h11.1M619.9 377.95v11.1"/>
<path d="M636.45 384.7h11.1M642 379.15v11.1"/>
<path d="M638.75 394.9h11.1M644.3 389.35v11.1"/>
<path d="M634.05 398.7h11.1M639.6 393.15v11.1"/>
<path d="M639.95 400.2h11.1M645.5 394.65v11.1"/>
<path d="M654.05 407.4h11.1M659.6 401.85v11.1"/>
<path d="M659.65 376.8h11.1M665.2 371.25v11.1"/>
<path d="M663.25 382.5h11.1M668.8 376.95v11.1"/>
<path d="M665.85 379h11.1M671.4 373.45v11.1"/>
<path d="M673.65 368.7h11.1M679.2 363.15v11.1"/>
<path d="M680.25 368.5h11.1M685.8 362.95v11.1"/>
<path d="M683.85 366.2h11.1M689.4 360.65v11.1"/>
<path d="M677.75 386h11.1M683.3 380.45v11.1"/>
<path d="M682.95 388.1h11.1M688.5 382.55v11.1"/>
<path d="M688.95 383.7h11.1M694.5 378.15v11.1"/>
<path d="M691.15 380.6h11.1M696.7 375.05v11.1"/>
<path d="M669.85 392.7h11.1M675.4 387.15v11.1"/>
<path d="M669.85 402.4h11.1M675.4 396.85v11.1"/>
<path d="M668.85 414.4h11.1M674.4 408.85v11.1"/>
<path d="M699.85 391.2h11.1M705.4 385.65v11.1"/>
<path d="M689.85 412.4h11.1M695.4 406.85v11.1"/>
<path d="M692.05 414.3h11.1M697.6 408.75v11.1"/>
<path d="M647.85 423.4h11.1M653.4 417.85v11.1"/>
<path d="M696.05 422.4h11.1M701.6 416.85v11.1"/>
<path d="M701.75 419.9h11.1M707.3 414.35v11.1"/>
<path d="M706.85 372.7h11.1M712.4 367.15v11.1"/>
<path d="M715.75 372.7h11.1M721.3 367.15v11.1"/>
<path d="M714.55 373.4h11.1M720.1 367.85v11.1"/>
<path d="M727.05 373.9h11.1M732.6 368.35v11.1"/>
<path d="M723.35 379.5h11.1M728.9 373.95v11.1"/>
<path d="M734.95 370.8h11.1M740.5 365.25v11.1"/>
<path d="M717.55 391.2h11.1M723.1 385.65v11.1"/>
<path d="M733.55 392.3h11.1M739.1 386.75v11.1"/>
<path d="M748.85 367.2h11.1M754.4 361.65v11.1"/>
<path d="M755.75 361.9h11.1M761.3 356.35v11.1"/>
<path d="M757.05 372.5h11.1M762.6 366.95v11.1"/>
<path d="M748.85 375.8h11.1M754.4 370.25v11.1"/>
<path d="M749.75 376.8h11.1M755.3 371.25v11.1"/>
<path d="M748.15 376.5h11.1M753.7 370.95v11.1"/>
<path d="M772.75 376.5h11.1M778.3 370.95v11.1"/>
<path d="M785.85 373.4h11.1M791.4 367.85v11.1"/>
<path d="M784.85 378.9h11.1M790.4 373.35v11.1"/>
<path d="M750.85 389.5h11.1M756.4 383.95v11.1"/>
<path d="M753.85 390.5h11.1M759.4 384.95v11.1"/>
<path d="M756.25 391.2h11.1M761.8 385.65v11.1"/>
<path d="M760.85 389.8h11.1M766.4 384.25v11.1"/>
<path d="M783.15 388.8h11.1M788.7 383.25v11.1"/>
<path d="M789.35 389.3h11.1M794.9 383.75v11.1"/>
<path d="M789.85 391.2h11.1M795.4 385.65v11.1"/>
<path d="M711.65 407h11.1M717.2 401.45v11.1"/>
<path d="M727.05 408h11.1M732.6 402.45v11.1"/>
<path d="M717.85 396.5h11.1M723.4 390.95v11.1"/>
<path d="M734.25 396h11.1M739.8 390.45v11.1"/>
<path d="M753.85 402.2h11.1M759.4 396.65v11.1"/>
<path d="M761.05 404.1h11.1M766.6 398.55v11.1"/>
<path d="M795.65 400.3h11.1M801.2 394.75v11.1"/>
<path d="M803.25 401.3h11.1M808.8 395.75v11.1"/>
<path d="M775.45 408h11.1M781 402.45v11.1"/>
<path d="M786.05 407h11.1M791.6 401.45v11.1"/>
<path d="M592.05 429.3h11.1M597.6 423.75v11.1"/>
<path d="M593.65 435.6h11.1M599.2 430.05v11.1"/>
<path d="M603.25 441.1h11.1M608.8 435.55v11.1"/>
<path d="M612.35 441.9h11.1M617.9 436.35v11.1"/>
<path d="M612.65 443h11.1M618.2 437.45v11.1"/>
<path d="M617.15 440.6h11.1M622.7 435.05v11.1"/>
<path d="M635.85 440.2h11.1M641.4 434.65v11.1"/>
<path d="M655.05 426.4h11.1M660.6 420.85v11.1"/>
<path d="M653.95 431.5h11.1M659.5 425.95v11.1"/>
<path d="M665.15 438.4h11.1M670.7 432.85v11.1"/>
<path d="M673.25 435.8h11.1M678.8 430.25v11.1"/>
<path d="M668.75 414.3h11.1M674.3 408.75v11.1"/>
<path d="M687.05 430.4h11.1M692.6 424.85v11.1"/>
<path d="M700.45 432.1h11.1M706 426.55v11.1"/>
<path d="M821.55 378.4h11.1M827.1 372.85v11.1"/>
<path d="M805.25 385.4h11.1M810.8 379.85v11.1"/>
<path d="M857.95 383h11.1M863.5 377.45v11.1"/>
<path d="M877.55 383.7h11.1M883.1 378.15v11.1"/>
<path d="M884.85 395.3h11.1M890.4 389.75v11.1"/>
<path d="M833.45 400.8h11.1M839 395.25v11.1"/>
<path d="M840.95 407.5h11.1M846.5 401.95v11.1"/>
<path d="M837.55 407.5h11.1M843.1 401.95v11.1"/>
<path d="M872.35 435.2h11.1M877.9 429.65v11.1"/>
<path d="M689.05 435.4h11.1M694.6 429.85v11.1"/>
<path d="M691.45 426.4h11.1M697 420.85v11.1"/>
<path d="M692.95 442.2h11.1M698.5 436.65v11.1"/>
<path d="M694.95 433.2h11.1M700.5 427.65v11.1"/>
<path d="M696.85 440.3h11.1M702.4 434.75v11.1"/>
<path d="M699.75 441.1h11.1M705.3 435.55v11.1"/>
<path d="M704.35 441.9h11.1M709.9 436.35v11.1"/>
<path d="M704.85 422.8h11.1M710.4 417.25v11.1"/>
<path d="M705.55 441h11.1M711.1 435.45v11.1"/>
<path d="M706.95 438.7h11.1M712.5 433.15v11.1"/>
<path d="M707.05 435.2h11.1M712.6 429.65v11.1"/>
<path d="M707.35 418.7h11.1M712.9 413.15v11.1"/>
<path d="M707.75 441.6h11.1M713.3 436.05v11.1"/>
<path d="M707.95 433.6h11.1M713.5 428.05v11.1"/>
<path d="M707.95 430.5h11.1M713.5 424.95v11.1"/>
<path d="M714.25 418.2h11.1M719.8 412.65v11.1"/>
<path d="M715.25 420.8h11.1M720.8 415.25v11.1"/>
<path d="M715.35 419h11.1M720.9 413.45v11.1"/>
<path d="M715.65 438h11.1M721.2 432.45v11.1"/>
<path d="M716.05 434.5h11.1M721.6 428.95v11.1"/>
<path d="M716.05 436.1h11.1M721.6 430.55v11.1"/>
<path d="M717.35 418.2h11.1M722.9 412.65v11.1"/>
<path d="M717.35 415.1h11.1M722.9 409.55v11.1"/>
<path d="M717.35 440.6h11.1M722.9 435.05v11.1"/>
<path d="M719.75 440.2h11.1M725.3 434.65v11.1"/>
<path d="M720.35 439.1h11.1M725.9 433.55v11.1"/>
<path d="M720.95 439h11.1M726.5 433.45v11.1"/>
<path d="M720.95 432.5h11.1M726.5 426.95v11.1"/>
<path d="M721.55 429.2h11.1M727.1 423.65v11.1"/>
<path d="M724.35 438.4h11.1M729.9 432.85v11.1"/>
<path d="M724.75 442.3h11.1M730.3 436.75v11.1"/>
<path d="M724.75 434.4h11.1M730.3 428.85v11.1"/>
<path d="M725.35 435.8h11.1M730.9 430.25v11.1"/>
<path d="M725.35 429.9h11.1M730.9 424.35v11.1"/>
<path d="M726.55 415.3h11.1M732.1 409.75v11.1"/>
<path d="M731.45 425.7h11.1M737 420.15v11.1"/>
<path d="M731.75 431.6h11.1M737.3 426.05v11.1"/>
<path d="M735.25 428.2h11.1M740.8 422.65v11.1"/>
<path d="M735.25 426.2h11.1M740.8 420.65v11.1"/>
<path d="M735.25 441.9h11.1M740.8 436.35v11.1"/>
<path d="M737.05 417.6h11.1M742.6 412.05v11.1"/>
<path d="M737.75 422.3h11.1M743.3 416.75v11.1"/>
<path d="M738.55 418.6h11.1M744.1 413.05v11.1"/>
<path d="M739.25 421.6h11.1M744.8 416.05v11.1"/>
<path d="M739.55 435.2h11.1M745.1 429.65v11.1"/>
<path d="M739.95 435h11.1M745.5 429.45v11.1"/>
<path d="M740.65 441.3h11.1M746.2 435.75v11.1"/>
<path d="M741.25 427.7h11.1M746.8 422.15v11.1"/>
<path d="M742.35 441.8h11.1M747.9 436.25v11.1"/>
<path d="M742.85 441.8h11.1M748.4 436.25v11.1"/>
<path d="M743.85 439.5h11.1M749.4 433.95v11.1"/>
<path d="M744.25 440.4h11.1M749.8 434.85v11.1"/>
<path d="M744.45 436.5h11.1M750 430.95v11.1"/>
<path d="M744.75 442h11.1M750.3 436.45v11.1"/>
<path d="M745.75 442.3h11.1M751.3 436.75v11.1"/>
<path d="M746.55 440.6h11.1M752.1 435.05v11.1"/>
<path d="M747.05 441.4h11.1M752.6 435.85v11.1"/>
<path d="M747.35 435.9h11.1M752.9 430.35v11.1"/>
<path d="M747.55 442.2h11.1M753.1 436.65v11.1"/>
<path d="M748.25 418.6h11.1M753.8 413.05v11.1"/>
<path d="M748.45 428.3h11.1M754 422.75v11.1"/>
<path d="M749.45 440.6h11.1M755 435.05v11.1"/>
<path d="M749.45 438.6h11.1M755 433.05v11.1"/>
<path d="M749.45 436.4h11.1M755 430.85v11.1"/>
<path d="M750.45 435.9h11.1M756 430.35v11.1"/>
<path d="M750.45 441.1h11.1M756 435.55v11.1"/>
<path d="M750.75 419.6h11.1M756.3 414.05v11.1"/>
<path d="M751.35 413.6h11.1M756.9 408.05v11.1"/>
<path d="M751.95 433.1h11.1M757.5 427.55v11.1"/>
<path d="M752.95 432.5h11.1M758.5 426.95v11.1"/>
<path d="M753.25 441.6h11.1M758.8 436.05v11.1"/>
<path d="M753.25 441.4h11.1M758.8 435.85v11.1"/>
<path d="M755.55 436.5h11.1M761.1 430.95v11.1"/>
<path d="M756.85 438.3h11.1M762.4 432.75v11.1"/>
<path d="M758.95 420.4h11.1M764.5 414.85v11.1"/>
<path d="M759.35 440.4h11.1M764.9 434.85v11.1"/>
<path d="M759.55 442.2h11.1M765.1 436.65v11.1"/>
<path d="M761.85 415.4h11.1M767.4 409.85v11.1"/>
<path d="M761.85 431.2h11.1M767.4 425.65v11.1"/>
<path d="M762.45 440.7h11.1M768 435.15v11.1"/>
<path d="M763.75 430.7h11.1M769.3 425.15v11.1"/>
<path d="M764.35 442.2h11.1M769.9 436.65v11.1"/>
<path d="M766.25 431.2h11.1M771.8 425.65v11.1"/>
<path d="M766.25 414.2h11.1M771.8 408.65v11.1"/>
<path d="M766.35 419h11.1M771.9 413.45v11.1"/>
<path d="M769.55 425.5h11.1M775.1 419.95v11.1"/>
<path d="M771.75 438.4h11.1M777.3 432.85v11.1"/>
<path d="M772.35 435.9h11.1M777.9 430.35v11.1"/>
<path d="M772.55 440.3h11.1M778.1 434.75v11.1"/>
<path d="M774.25 422.6h11.1M779.8 417.05v11.1"/>
<path d="M774.25 431h11.1M779.8 425.45v11.1"/>
<path d="M774.55 422.4h11.1M780.1 416.85v11.1"/>
<path d="M774.55 436.8h11.1M780.1 431.25v11.1"/>
<path d="M778.55 439.2h11.1M784.1 433.65v11.1"/>
<path d="M778.55 421.1h11.1M784.1 415.55v11.1"/>
<path d="M779.75 414h11.1M785.3 408.45v11.1"/>
<path d="M782.25 419.5h11.1M787.8 413.95v11.1"/>
<path d="M783.65 421.3h11.1M789.2 415.75v11.1"/>
<path d="M787.25 420.8h11.1M792.8 415.25v11.1"/>
<path d="M788.75 423.8h11.1M794.3 418.25v11.1"/>
<path d="M790.35 439.2h11.1M795.9 433.65v11.1"/>
<path d="M793.35 431.5h11.1M798.9 425.95v11.1"/>
<path d="M793.55 436.2h11.1M799.1 430.65v11.1"/>
</g>
<path d="M669.89 386.26L677.87 387.81L685.84 389.36L693.81 390.89L701.79 392.41L709.76 393.9L717.74 395.37L725.71 396.82L733.69 398.23L741.66 399.6L749.63 400.93L757.61 402.2L765.58 403.4L773.56 404.54L781.53 405.6L789.51 406.57L797.48 407.47L805.45 408.28L813.43 409.01L821.4 409.68L829.38 410.28L837.35 410.83L845.32 411.34L853.3 411.81L861.27 412.25L869.25 412.66L877.22 413.05L885.2 413.42L893.17 413.78L901.14 414.12L909.12 414.45L917.09 414.77L925.07 415.08L933.04 415.38L941.02 415.68L948.99 415.98L956.96 416.26L964.94 416.55L972.91 416.83L980.89 417.1L988.86 417.38L988.86 455.02L980.89 453.41L972.91 451.79L964.94 450.18L956.96 448.58L948.99 446.97L941.02 445.38L933.04 443.79L925.07 442.2L917.09 440.62L909.12 439.05L901.14 437.49L893.17 435.94L885.2 434.41L877.22 432.89L869.25 431.39L861.27 429.91L853.3 428.46L845.32 427.04L837.35 425.66L829.38 424.32L821.4 423.03L813.43 421.81L805.45 420.65L797.48 419.57L789.51 418.58L781.53 417.66L773.56 416.83L765.58 416.08L757.61 415.39L749.63 414.77L741.66 414.21L733.69 413.69L725.71 413.21L717.74 412.77L709.76 412.35L701.79 411.95L693.81 411.58L685.84 411.22L677.87 410.88L669.89 410.54Z" fill="#999999" fill-opacity="0.275"/>
<line x1="669.89" y1="398.4" x2="988.86" y2="436.2" stroke="#F6736A" stroke-width="3.8"/>
<path d="M597.62 379.2L604.94 380.2L612.26 381.2L619.57 382.19L626.89 383.17L634.21 384.14L641.52 385.1L648.84 386.05L656.16 386.98L663.48 387.89L670.79 388.78L678.11 389.64L685.43 390.46L692.74 391.24L700.06 391.97L707.38 392.62L714.69 393.19L722.01 393.67L729.33 394.04L736.65 394.28L743.96 394.41L751.28 394.42L758.6 394.33L765.91 394.14L773.23 393.88L780.55 393.56L787.86 393.18L795.18 392.77L802.5 392.32L809.81 391.84L817.13 391.35L824.45 390.84L831.77 390.31L839.08 389.77L846.4 389.22L853.72 388.66L861.03 388.09L868.35 387.51L875.67 386.94L882.98 386.35L890.3 385.76L890.3 423.44L882.98 422.42L875.67 421.41L868.35 420.41L861.03 419.41L853.72 418.42L846.4 417.43L839.08 416.46L831.77 415.49L824.45 414.54L817.13 413.6L809.81 412.68L802.5 411.78L795.18 410.91L787.86 410.07L780.55 409.27L773.23 408.52L765.91 407.83L758.6 407.22L751.28 406.7L743.96 406.29L736.65 405.99L729.33 405.81L722.01 405.75L714.69 405.81L707.38 405.95L700.06 406.18L692.74 406.48L685.43 406.84L678.11 407.24L670.79 407.67L663.48 408.13L656.16 408.62L648.84 409.13L641.52 409.65L634.21 410.19L626.89 410.73L619.57 411.29L612.26 411.85L604.94 412.42L597.62 413Z" fill="#999999" fill-opacity="0.275"/>
<line x1="597.62" y1="396.1" x2="890.3" y2="404.6" stroke="#10BCC3" stroke-width="3.8"/>
</g>
<path d="M578.7 58.9V473.85M1008.1 58.9V473.85" fill="none" stroke="#464646" stroke-width="1.4"/>
<path d="M578.7 59.4H1008.1M578.7 473.35H1008.1" fill="none" stroke="#464646" stroke-width="1.05"/>
<path d="M608.3 473.2v5.4M741.75 473.2v5.4M875.2 473.2v5.4M578.7 443h-5.4M578.7 347.45h-5.4M578.7 251.9h-5.4M578.7 156.35h-5.4M578.7 60.8h-5.4" stroke="#202020" stroke-width="2.1" fill="none"/>
<g font-size="15.9" fill="#3d3d3d">
<text transform="translate(608.3,493.7) scale(0.99,1)" text-anchor="middle">14</text>
<text transform="translate(741.75,493.7) scale(0.99,1)" text-anchor="middle">16</text>
<text transform="translate(875.2,493.7) scale(0.99,1)" text-anchor="middle">18</text>
<text transform="translate(569.2,449.3) scale(0.99,1)" text-anchor="end">0.00</text>
<text transform="translate(569.2,353.75) scale(0.99,1)" text-anchor="end">0.05</text>
<text transform="translate(569.2,258.2) scale(0.99,1)" text-anchor="end">0.10</text>
<text transform="translate(569.2,162.65) scale(0.99,1)" text-anchor="end">0.15</text>
<text transform="translate(569.2,67.1) scale(0.99,1)" text-anchor="end">0.20</text>
</g>
</g>
<g id="panelC">
<clipPath id="clipC"><rect x="1087.7" y="59.7" width="432.7" height="413.5"/></clipPath>
<g clip-path="url(#clipC)">
<path d="M1184.7 59.7V473.2M1319.3 59.7V473.2M1453.9 59.7V473.2M1087.7 112.4H1520.4M1087.7 267.4H1520.4M1087.7 422.4H1520.4" stroke="#eeeeee" stroke-width="1.0" fill="none"/>
<path d="M1117.5 59.7V473.2M1252 59.7V473.2M1386.6 59.7V473.2M1087.7 189.9H1520.4M1087.7 344.9H1520.4" stroke="#e7e7e8" stroke-width="1.5" fill="none"/>
<g class="pts-a" fill="none" stroke="#F4756C" stroke-width="1.15" stroke-opacity="0.53">
<path d="M1202.45 115.5h11.1M1208 109.95v11.1"/>
<path d="M1210.65 117.6h11.1M1216.2 112.05v11.1"/>
<path d="M1201.45 122.4h11.1M1207 116.85v11.1"/>
<path d="M1199.55 124.3h11.1M1205.1 118.75v11.1"/>
<path d="M1218.15 122.4h11.1M1223.7 116.85v11.1"/>
<path d="M1216.85 136.4h11.1M1222.4 130.85v11.1"/>
<path d="M1239.85 122h11.1M1245.4 116.45v11.1"/>
<path d="M1237.15 129.1h11.1M1242.7 123.55v11.1"/>
<path d="M1193.15 142.7h11.1M1198.7 137.15v11.1"/>
<path d="M1193.15 152.3h11.1M1198.7 146.75v11.1"/>
<path d="M1193.75 156.5h11.1M1199.3 150.95v11.1"/>
<path d="M1261.95 141.6h11.1M1267.5 136.05v11.1"/>
<path d="M1278.25 118.2h11.1M1283.8 112.65v11.1"/>
<path d="M1276.35 145.8h11.1M1281.9 140.25v11.1"/>
<path d="M1269.55 156h11.1M1275.1 150.45v11.1"/>
<path d="M1228.35 159.2h11.1M1233.9 153.65v11.1"/>
<path d="M1277.25 158.3h11.1M1282.8 152.75v11.1"/>
<path d="M1336.05 77.7h11.1M1341.6 72.15v11.1"/>
<path d="M1358.05 84.6h11.1M1363.6 79.05v11.1"/>
<path d="M1389.75 107.8h11.1M1395.3 102.25v11.1"/>
<path d="M1290.15 95.5h11.1M1295.7 89.95v11.1"/>
<path d="M1282.85 99.9h11.1M1288.4 94.35v11.1"/>
<path d="M1301.65 100.3h11.1M1307.2 94.75v11.1"/>
<path d="M1297.85 102.8h11.1M1303.4 97.25v11.1"/>
<path d="M1286.65 116h11.1M1292.2 110.45v11.1"/>
<path d="M1291.65 120.1h11.1M1297.2 114.55v11.1"/>
<path d="M1312.25 119.7h11.1M1317.8 114.15v11.1"/>
<path d="M1340.05 127.6h11.1M1345.6 122.05v11.1"/>
<path d="M1294.95 127.2h11.1M1300.5 121.65v11.1"/>
<path d="M1298.75 128.1h11.1M1304.3 122.55v11.1"/>
<path d="M1294.35 129.5h11.1M1299.9 123.95v11.1"/>
<path d="M1307.45 141.2h11.1M1313 135.65v11.1"/>
<path d="M1333.65 154.4h11.1M1339.2 148.85v11.1"/>
<path d="M1293.35 156.4h11.1M1298.9 150.85v11.1"/>
<path d="M1284.35 156.9h11.1M1289.9 151.35v11.1"/>
<path d="M1173.85 161.5h11.1M1179.4 155.95v11.1"/>
<path d="M1231.15 168.5h11.1M1236.7 162.95v11.1"/>
<path d="M1230.55 174.3h11.1M1236.1 168.75v11.1"/>
<path d="M1235.95 179h11.1M1241.5 173.45v11.1"/>
<path d="M1270.75 173.5h11.1M1276.3 167.95v11.1"/>
<path d="M1275.45 184.3h11.1M1281 178.75v11.1"/>
<path d="M1271.05 181.8h11.1M1276.6 176.25v11.1"/>
<path d="M1286.05 180h11.1M1291.6 174.45v11.1"/>
<path d="M1295.45 169.4h11.1M1301 163.85v11.1"/>
<path d="M1316.75 168.7h11.1M1322.3 163.15v11.1"/>
<path d="M1307.55 186.4h11.1M1313.1 180.85v11.1"/>
<path d="M1300.65 188.7h11.1M1306.2 183.15v11.1"/>
<path d="M1293.55 191.8h11.1M1299.1 186.25v11.1"/>
<path d="M1301.65 191.4h11.1M1307.2 185.85v11.1"/>
<path d="M1300.75 195.3h11.1M1306.3 189.75v11.1"/>
<path d="M1269.85 197.4h11.1M1275.4 191.85v11.1"/>
<path d="M1277.95 198.4h11.1M1283.5 192.85v11.1"/>
<path d="M1286.05 198.9h11.1M1291.6 193.35v11.1"/>
<path d="M1269.25 208h11.1M1274.8 202.45v11.1"/>
<path d="M1219.35 207.2h11.1M1224.9 201.65v11.1"/>
<path d="M1295.05 213.9h11.1M1300.6 208.35v11.1"/>
<path d="M1290.65 218h11.1M1296.2 212.45v11.1"/>
<path d="M1325.35 221.4h11.1M1330.9 215.85v11.1"/>
<path d="M1331.95 209.5h11.1M1337.5 203.95v11.1"/>
<path d="M1337.85 210.8h11.1M1343.4 205.25v11.1"/>
<path d="M1342.25 201.2h11.1M1347.8 195.65v11.1"/>
<path d="M1297.25 224.3h11.1M1302.8 218.75v11.1"/>
<path d="M1311.05 224.3h11.1M1316.6 218.75v11.1"/>
<path d="M1314.15 224.3h11.1M1319.7 218.75v11.1"/>
<path d="M1373.75 227h11.1M1379.3 221.45v11.1"/>
<path d="M1402.75 227.9h11.1M1408.3 222.35v11.1"/>
<path d="M1430.55 218.9h11.1M1436.1 213.35v11.1"/>
<path d="M1219.95 232.7h11.1M1225.5 227.15v11.1"/>
<path d="M1214.95 243.7h11.1M1220.5 238.15v11.1"/>
<path d="M1222.45 244.3h11.1M1228 238.75v11.1"/>
<path d="M1251.75 251.2h11.1M1257.3 245.65v11.1"/>
<path d="M1259.25 251.8h11.1M1264.8 246.25v11.1"/>
<path d="M1246.15 258.7h11.1M1251.7 253.15v11.1"/>
<path d="M1266.75 248.1h11.1M1272.3 242.55v11.1"/>
<path d="M1271.05 248.1h11.1M1276.6 242.55v11.1"/>
<path d="M1261.75 264.9h11.1M1267.3 259.35v11.1"/>
<path d="M1266.05 268.4h11.1M1271.6 262.85v11.1"/>
<path d="M1248.65 268h11.1M1254.2 262.45v11.1"/>
<path d="M1282.95 265.5h11.1M1288.5 259.95v11.1"/>
<path d="M1292.25 252.4h11.1M1297.8 246.85v11.1"/>
<path d="M1301.65 244h11.1M1307.2 238.45v11.1"/>
<path d="M1276.05 256.8h11.1M1281.6 251.25v11.1"/>
<path d="M1234.95 273h11.1M1240.5 267.45v11.1"/>
<path d="M1217.45 281.8h11.1M1223 276.25v11.1"/>
<path d="M1221.85 279.9h11.1M1227.4 274.35v11.1"/>
<path d="M1271.75 282.8h11.1M1277.3 277.25v11.1"/>
<path d="M1292.25 274.3h11.1M1297.8 268.75v11.1"/>
<path d="M1296.65 274.9h11.1M1302.2 269.35v11.1"/>
<path d="M1301.65 274.3h11.1M1307.2 268.75v11.1"/>
<path d="M1302.25 281.8h11.1M1307.8 276.25v11.1"/>
<path d="M1318.85 281.8h11.1M1324.4 276.25v11.1"/>
<path d="M1334.95 271.8h11.1M1340.5 266.25v11.1"/>
<path d="M1332.85 236.9h11.1M1338.4 231.35v11.1"/>
<path d="M1332.25 246.2h11.1M1337.8 240.65v11.1"/>
<path d="M1341.55 236.9h11.1M1347.1 231.35v11.1"/>
<path d="M1297.25 226.9h11.1M1302.8 221.35v11.1"/>
<path d="M1311.05 226.9h11.1M1316.6 221.35v11.1"/>
<path d="M1314.75 226.9h11.1M1320.3 221.35v11.1"/>
<path d="M1262.95 226.2h11.1M1268.5 220.65v11.1"/>
<path d="M1341.85 237.5h11.1M1347.4 231.95v11.1"/>
<path d="M1439.75 268h11.1M1445.3 262.45v11.1"/>
<path d="M1345.35 266.3h11.1M1350.9 260.75v11.1"/>
<path d="M1348.25 271.1h11.1M1353.8 265.55v11.1"/>
<path d="M1377.35 285.5h11.1M1382.9 279.95v11.1"/>
<path d="M1390.45 281h11.1M1396 275.45v11.1"/>
<path d="M1374.15 297.6h11.1M1379.7 292.05v11.1"/>
<path d="M1444.75 294.1h11.1M1450.3 288.55v11.1"/>
<path d="M1429.75 301.4h11.1M1435.3 295.85v11.1"/>
<path d="M1437.85 306.2h11.1M1443.4 300.65v11.1"/>
<path d="M1412.15 308.9h11.1M1417.7 303.35v11.1"/>
<path d="M1454.35 315.6h11.1M1459.9 310.05v11.1"/>
<path d="M1384.25 320h11.1M1389.8 314.45v11.1"/>
<path d="M1196.35 303.7h11.1M1201.9 298.15v11.1"/>
<path d="M1204.05 305.8h11.1M1209.6 300.25v11.1"/>
<path d="M1208.05 330.4h11.1M1213.6 324.85v11.1"/>
<path d="M1224.55 296.9h11.1M1230.1 291.35v11.1"/>
<path d="M1222.85 306.2h11.1M1228.4 300.65v11.1"/>
<path d="M1223.95 326.2h11.1M1229.5 320.65v11.1"/>
<path d="M1228.65 336.8h11.1M1234.2 331.25v11.1"/>
<path d="M1247.75 318.1h11.1M1253.3 312.55v11.1"/>
<path d="M1271.05 307.5h11.1M1276.6 301.95v11.1"/>
<path d="M1267.95 313.5h11.1M1273.5 307.95v11.1"/>
<path d="M1275.25 314.1h11.1M1280.8 308.55v11.1"/>
<path d="M1255.45 332.4h11.1M1261 326.85v11.1"/>
<path d="M1276.05 334.5h11.1M1281.6 328.95v11.1"/>
<path d="M1296.95 341.8h11.1M1302.5 336.25v11.1"/>
<path d="M1299.75 313.1h11.1M1305.3 307.55v11.1"/>
<path d="M1314.75 308.1h11.1M1320.3 302.55v11.1"/>
<path d="M1321.35 312.7h11.1M1326.9 307.15v11.1"/>
<path d="M1332.55 324.6h11.1M1338.1 319.05v11.1"/>
<path d="M1322.65 336.2h11.1M1328.2 330.65v11.1"/>
<path d="M1332.85 343.9h11.1M1338.4 338.35v11.1"/>
<path d="M1311.05 292.1h11.1M1316.6 286.55v11.1"/>
<path d="M1297.95 293.5h11.1M1303.5 287.95v11.1"/>
<path d="M1270.45 353.4h11.1M1276 347.85v11.1"/>
<path d="M1356.85 331.5h11.1M1362.4 325.95v11.1"/>
<path d="M1412.15 330.4h11.1M1417.7 324.85v11.1"/>
<path d="M1434.95 331.3h11.1M1440.5 325.75v11.1"/>
<path d="M1464.35 342.3h11.1M1469.9 336.75v11.1"/>
<path d="M1495.65 346.1h11.1M1501.2 340.55v11.1"/>
<path d="M1408.05 348.4h11.1M1413.6 342.85v11.1"/>
<path d="M1405.75 354.4h11.1M1411.3 348.85v11.1"/>
<path d="M1418.65 362h11.1M1424.2 356.45v11.1"/>
<path d="M1488.85 362h11.1M1494.4 356.45v11.1"/>
<path d="M1482.55 369.3h11.1M1488.1 363.75v11.1"/>
<path d="M1375.05 371.3h11.1M1380.6 365.75v11.1"/>
<path d="M1366.05 376.4h11.1M1371.6 370.85v11.1"/>
<path d="M1343.45 365.3h11.1M1349 359.75v11.1"/>
<path d="M1268.55 360.6h11.1M1274.1 355.05v11.1"/>
<path d="M1274.45 377.5h11.1M1280 371.95v11.1"/>
<path d="M1288.15 393.4h11.1M1293.7 387.85v11.1"/>
<path d="M1293.25 393.4h11.1M1298.8 387.85v11.1"/>
<path d="M1325.35 375.3h11.1M1330.9 369.75v11.1"/>
<path d="M1333.75 368.7h11.1M1339.3 363.15v11.1"/>
<path d="M1342.25 365.2h11.1M1347.8 359.65v11.1"/>
</g>
<g class="pts-b" fill="none" stroke="#14B6BD" stroke-width="1.15" stroke-opacity="0.53">
<path d="M1102.65 123h11.1M1108.2 117.45v11.1"/>
<path d="M1121.95 136.6h11.1M1127.5 131.05v11.1"/>
<path d="M1126.55 159.2h11.1M1132.1 153.65v11.1"/>
<path d="M1163.65 148.7h11.1M1169.2 143.15v11.1"/>
<path d="M1236.95 101.3h11.1M1242.5 95.75v11.1"/>
<path d="M1251.55 105.5h11.1M1257.1 99.95v11.1"/>
<path d="M1205.25 118.9h11.1M1210.8 113.35v11.1"/>
<path d="M1218.35 126.8h11.1M1223.9 121.25v11.1"/>
<path d="M1216.85 131.6h11.1M1222.4 126.05v11.1"/>
<path d="M1226.75 136.2h11.1M1232.3 130.65v11.1"/>
<path d="M1276.85 127.2h11.1M1282.4 121.65v11.1"/>
<path d="M1245.55 150.2h11.1M1251.1 144.65v11.1"/>
<path d="M1250.95 148.7h11.1M1256.5 143.15v11.1"/>
<path d="M1257.45 155h11.1M1263 149.45v11.1"/>
<path d="M1228.75 156h11.1M1234.3 150.45v11.1"/>
<path d="M1214.85 159.2h11.1M1220.4 153.65v11.1"/>
<path d="M1241.75 158.3h11.1M1247.3 152.75v11.1"/>
<path d="M1259.05 158.3h11.1M1264.6 152.75v11.1"/>
<path d="M1280.15 151.7h11.1M1285.7 146.15v11.1"/>
<path d="M1289.15 128.1h11.1M1294.7 122.55v11.1"/>
<path d="M1294.35 159.2h11.1M1299.9 153.65v11.1"/>
<path d="M1283.45 153.1h11.1M1289 147.55v11.1"/>
<path d="M1157.35 167.5h11.1M1162.9 161.95v11.1"/>
<path d="M1101.05 195.6h11.1M1106.6 190.05v11.1"/>
<path d="M1141.55 200.3h11.1M1147.1 194.75v11.1"/>
<path d="M1143.55 216.8h11.1M1149.1 211.25v11.1"/>
<path d="M1143.85 217.6h11.1M1149.4 212.05v11.1"/>
<path d="M1174.75 200.2h11.1M1180.3 194.65v11.1"/>
<path d="M1187.45 203.9h11.1M1193 198.35v11.1"/>
<path d="M1178.15 213.3h11.1M1183.7 207.75v11.1"/>
<path d="M1196.95 210.5h11.1M1202.5 204.95v11.1"/>
<path d="M1204.75 171.9h11.1M1210.3 166.35v11.1"/>
<path d="M1209.75 176.2h11.1M1215.3 170.65v11.1"/>
<path d="M1207.85 190.6h11.1M1213.4 185.05v11.1"/>
<path d="M1206.55 192.4h11.1M1212.1 186.85v11.1"/>
<path d="M1204.95 201.8h11.1M1210.5 196.25v11.1"/>
<path d="M1210.35 214.9h11.1M1215.9 209.35v11.1"/>
<path d="M1207.85 223.6h11.1M1213.4 218.05v11.1"/>
<path d="M1245.15 162.2h11.1M1250.7 156.65v11.1"/>
<path d="M1244.25 163.5h11.1M1249.8 157.95v11.1"/>
<path d="M1262.35 164h11.1M1267.9 158.45v11.1"/>
<path d="M1270.45 162.7h11.1M1276 157.15v11.1"/>
<path d="M1270.05 166.9h11.1M1275.6 161.35v11.1"/>
<path d="M1227.45 169.4h11.1M1233 163.85v11.1"/>
<path d="M1236.75 174.3h11.1M1242.3 168.75v11.1"/>
<path d="M1224.55 184.3h11.1M1230.1 178.75v11.1"/>
<path d="M1228.05 184.3h11.1M1233.6 178.75v11.1"/>
<path d="M1231.75 185h11.1M1237.3 179.45v11.1"/>
<path d="M1249.55 178.5h11.1M1255.1 172.95v11.1"/>
<path d="M1249.85 180.6h11.1M1255.4 175.05v11.1"/>
<path d="M1261.15 179h11.1M1266.7 173.45v11.1"/>
<path d="M1263.85 179h11.1M1269.4 173.45v11.1"/>
<path d="M1271.05 180.6h11.1M1276.6 175.05v11.1"/>
<path d="M1286.65 180h11.1M1292.2 174.45v11.1"/>
<path d="M1299.45 170.2h11.1M1305 164.65v11.1"/>
<path d="M1231.15 193.7h11.1M1236.7 188.15v11.1"/>
<path d="M1233.05 195.6h11.1M1238.6 190.05v11.1"/>
<path d="M1254.65 193.4h11.1M1260.2 187.85v11.1"/>
<path d="M1255.15 196.2h11.1M1260.7 190.65v11.1"/>
<path d="M1260.85 206.2h11.1M1266.4 200.65v11.1"/>
<path d="M1252.15 208.7h11.1M1257.7 203.15v11.1"/>
<path d="M1274.85 209.3h11.1M1280.4 203.75v11.1"/>
<path d="M1301.05 211.8h11.1M1306.6 206.25v11.1"/>
<path d="M1223.65 210.5h11.1M1229.2 204.95v11.1"/>
<path d="M1217.45 214.9h11.1M1223 209.35v11.1"/>
<path d="M1227.45 221.1h11.1M1233 215.55v11.1"/>
<path d="M1230.55 221.8h11.1M1236.1 216.25v11.1"/>
<path d="M1254.85 214.3h11.1M1260.4 208.75v11.1"/>
<path d="M1258.85 213.6h11.1M1264.4 208.05v11.1"/>
<path d="M1264.85 211.2h11.1M1270.4 205.65v11.1"/>
<path d="M1248.05 224.3h11.1M1253.6 218.75v11.1"/>
<path d="M1396.35 203h11.1M1401.9 197.45v11.1"/>
<path d="M1388.85 223.5h11.1M1394.4 217.95v11.1"/>
<path d="M1123.65 232.5h11.1M1129.2 226.95v11.1"/>
<path d="M1145.25 243.7h11.1M1150.8 238.15v11.1"/>
<path d="M1165.05 234.7h11.1M1170.6 229.15v11.1"/>
<path d="M1163.75 240.6h11.1M1169.3 235.05v11.1"/>
<path d="M1149.15 256.2h11.1M1154.7 250.65v11.1"/>
<path d="M1149.45 267.4h11.1M1155 261.85v11.1"/>
<path d="M1169.15 258.4h11.1M1174.7 252.85v11.1"/>
<path d="M1164.75 265.5h11.1M1170.3 259.95v11.1"/>
<path d="M1183.25 252.7h11.1M1188.8 247.15v11.1"/>
<path d="M1185.35 253.1h11.1M1190.9 247.55v11.1"/>
<path d="M1199.75 241.8h11.1M1205.3 236.25v11.1"/>
<path d="M1182.85 226h11.1M1188.4 220.45v11.1"/>
<path d="M1202.25 227.7h11.1M1207.8 222.15v11.1"/>
<path d="M1227.45 228.7h11.1M1233 223.15v11.1"/>
<path d="M1231.15 228.7h11.1M1236.7 223.15v11.1"/>
<path d="M1235.55 231h11.1M1241.1 225.45v11.1"/>
<path d="M1260.45 235.6h11.1M1266 230.05v11.1"/>
<path d="M1259.65 239.7h11.1M1265.2 234.15v11.1"/>
<path d="M1272.35 238.1h11.1M1277.9 232.55v11.1"/>
<path d="M1276.75 233.1h11.1M1282.3 227.55v11.1"/>
<path d="M1272.95 241.2h11.1M1278.5 235.65v11.1"/>
<path d="M1283.15 246.5h11.1M1288.7 240.95v11.1"/>
<path d="M1229.95 249.3h11.1M1235.5 243.75v11.1"/>
<path d="M1234.95 247.5h11.1M1240.5 241.95v11.1"/>
<path d="M1245.55 251h11.1M1251.1 245.45v11.1"/>
<path d="M1235.55 258.1h11.1M1241.1 252.55v11.1"/>
<path d="M1224.35 262.1h11.1M1229.9 256.55v11.1"/>
<path d="M1234.95 266.2h11.1M1240.5 260.65v11.1"/>
<path d="M1245.55 263.7h11.1M1251.1 258.15v11.1"/>
<path d="M1259.85 258.4h11.1M1265.4 252.85v11.1"/>
<path d="M1263.65 253.7h11.1M1269.2 248.15v11.1"/>
<path d="M1272.35 254.3h11.1M1277.9 248.75v11.1"/>
<path d="M1276.05 260.6h11.1M1281.6 255.05v11.1"/>
<path d="M1284.85 257.2h11.1M1290.4 251.65v11.1"/>
<path d="M1276.75 265.2h11.1M1282.3 259.65v11.1"/>
<path d="M1301.25 259.6h11.1M1306.8 254.05v11.1"/>
<path d="M1289.15 230.2h11.1M1294.7 224.65v11.1"/>
<path d="M1214.35 266.2h11.1M1219.9 260.65v11.1"/>
<path d="M1215.55 274.3h11.1M1221.1 268.75v11.1"/>
<path d="M1223.05 274.9h11.1M1228.6 269.35v11.1"/>
<path d="M1226.15 277.4h11.1M1231.7 271.85v11.1"/>
<path d="M1254.25 281.4h11.1M1259.8 275.85v11.1"/>
<path d="M1261.75 285.5h11.1M1267.3 279.95v11.1"/>
<path d="M1258.65 287.4h11.1M1264.2 281.85v11.1"/>
<path d="M1290.45 287.1h11.1M1296 281.55v11.1"/>
<path d="M1247.35 226.9h11.1M1252.9 221.35v11.1"/>
<path d="M1369.35 265.7h11.1M1374.9 260.15v11.1"/>
<path d="M1349.15 292.6h11.1M1354.7 287.05v11.1"/>
<path d="M1189.85 300.9h11.1M1195.4 295.35v11.1"/>
<path d="M1138.85 319.2h11.1M1144.4 313.65v11.1"/>
<path d="M1145.95 316.9h11.1M1151.5 311.35v11.1"/>
<path d="M1179.55 320.9h11.1M1185.1 315.35v11.1"/>
<path d="M1112.65 332.5h11.1M1118.2 326.95v11.1"/>
<path d="M1193.75 333h11.1M1199.3 327.45v11.1"/>
<path d="M1187.95 344h11.1M1193.5 338.45v11.1"/>
<path d="M1141.75 345.8h11.1M1147.3 340.25v11.1"/>
<path d="M1144.45 350.3h11.1M1150 344.75v11.1"/>
<path d="M1147.95 353h11.1M1153.5 347.45v11.1"/>
<path d="M1121.75 352h11.1M1127.3 346.45v11.1"/>
<path d="M1206.85 348.6h11.1M1212.4 343.05v11.1"/>
<path d="M1227.75 292.2h11.1M1233.3 286.65v11.1"/>
<path d="M1237.75 294.4h11.1M1243.3 288.85v11.1"/>
<path d="M1242.65 302.2h11.1M1248.2 296.65v11.1"/>
<path d="M1252.75 297.7h11.1M1258.3 292.15v11.1"/>
<path d="M1214.35 313.1h11.1M1219.9 307.55v11.1"/>
<path d="M1217.15 312.5h11.1M1222.7 306.95v11.1"/>
<path d="M1227.05 314.3h11.1M1232.6 308.75v11.1"/>
<path d="M1242.05 319.3h11.1M1247.6 313.75v11.1"/>
<path d="M1250.25 313.5h11.1M1255.8 307.95v11.1"/>
<path d="M1257.95 314.1h11.1M1263.5 308.55v11.1"/>
<path d="M1256.95 320.2h11.1M1262.5 314.65v11.1"/>
<path d="M1218.05 329.5h11.1M1223.6 323.95v11.1"/>
<path d="M1225.75 329.7h11.1M1231.3 324.15v11.1"/>
<path d="M1229.25 332.4h11.1M1234.8 326.85v11.1"/>
<path d="M1226.15 335.2h11.1M1231.7 329.65v11.1"/>
<path d="M1234.55 344.5h11.1M1240.1 338.95v11.1"/>
<path d="M1217.85 348.6h11.1M1223.4 343.05v11.1"/>
<path d="M1218.05 350.5h11.1M1223.6 344.95v11.1"/>
<path d="M1243.65 352.4h11.1M1249.2 346.85v11.1"/>
<path d="M1266.45 330.5h11.1M1272 324.95v11.1"/>
<path d="M1261.15 333h11.1M1266.7 327.45v11.1"/>
<path d="M1257.75 338.4h11.1M1263.3 332.85v11.1"/>
<path d="M1260.85 340.5h11.1M1266.4 334.95v11.1"/>
<path d="M1263.65 339.7h11.1M1269.2 334.15v11.1"/>
<path d="M1253.25 341.8h11.1M1258.8 336.25v11.1"/>
<path d="M1266.05 339.3h11.1M1271.6 333.75v11.1"/>
<path d="M1263.35 342.4h11.1M1268.9 336.85v11.1"/>
<path d="M1282.95 335.9h11.1M1288.5 330.35v11.1"/>
<path d="M1285.15 347.4h11.1M1290.7 341.85v11.1"/>
<path d="M1295.45 348.4h11.1M1301 342.85v11.1"/>
<path d="M1285.15 302.1h11.1M1290.7 296.55v11.1"/>
<path d="M1284.85 302.7h11.1M1290.4 297.15v11.1"/>
<path d="M1296.45 302.5h11.1M1302 296.95v11.1"/>
<path d="M1299.75 293.5h11.1M1305.3 287.95v11.1"/>
<path d="M1296.65 313.1h11.1M1302.2 307.55v11.1"/>
<path d="M1301.05 321.4h11.1M1306.6 315.85v11.1"/>
<path d="M1304.15 312.8h11.1M1309.7 307.25v11.1"/>
<path d="M1309.75 309.7h11.1M1315.3 304.15v11.1"/>
<path d="M1313.55 311.2h11.1M1319.1 305.65v11.1"/>
<path d="M1301.05 337.4h11.1M1306.6 331.85v11.1"/>
<path d="M1305.75 338h11.1M1311.3 332.45v11.1"/>
<path d="M1332.25 315.8h11.1M1337.8 310.25v11.1"/>
<path d="M1258.65 352.4h11.1M1264.2 346.85v11.1"/>
<path d="M1259.85 353.6h11.1M1265.4 348.05v11.1"/>
<path d="M1256.15 290.6h11.1M1261.7 285.05v11.1"/>
<path d="M1259.85 290.6h11.1M1265.4 285.05v11.1"/>
<path d="M1266.05 291.2h11.1M1271.6 285.65v11.1"/>
<path d="M1344.75 332.3h11.1M1350.3 326.75v11.1"/>
<path d="M1345.75 333.6h11.1M1351.3 328.05v11.1"/>
<path d="M1383.75 369.3h11.1M1389.3 363.75v11.1"/>
<path d="M1353.05 377.4h11.1M1358.6 371.85v11.1"/>
<path d="M1201.35 358h11.1M1206.9 352.45v11.1"/>
<path d="M1179.75 373.1h11.1M1185.3 367.55v11.1"/>
<path d="M1198.95 372.5h11.1M1204.5 366.95v11.1"/>
<path d="M1192.95 381.3h11.1M1198.5 375.75v11.1"/>
<path d="M1202.85 383.6h11.1M1208.4 378.05v11.1"/>
<path d="M1209.95 378.7h11.1M1215.5 373.15v11.1"/>
<path d="M1175.75 387.4h11.1M1181.3 381.85v11.1"/>
<path d="M1172.95 397.8h11.1M1178.5 392.25v11.1"/>
<path d="M1123.65 401.2h11.1M1129.2 395.65v11.1"/>
<path d="M1198.95 407.6h11.1M1204.5 402.05v11.1"/>
<path d="M1225.35 366.6h11.1M1230.9 361.05v11.1"/>
<path d="M1217.05 393.3h11.1M1222.6 387.75v11.1"/>
<path d="M1248.85 380h11.1M1254.4 374.45v11.1"/>
<path d="M1259.25 361h11.1M1264.8 355.45v11.1"/>
<path d="M1263.95 360.6h11.1M1269.5 355.05v11.1"/>
<path d="M1269.85 357.2h11.1M1275.4 351.65v11.1"/>
<path d="M1274.25 357.5h11.1M1279.8 351.95v11.1"/>
<path d="M1267.35 371.8h11.1M1272.9 366.25v11.1"/>
<path d="M1267.35 381.4h11.1M1272.9 375.85v11.1"/>
<path d="M1271.35 381.8h11.1M1276.9 376.25v11.1"/>
<path d="M1279.45 374.1h11.1M1285 368.55v11.1"/>
<path d="M1282.35 385.3h11.1M1287.9 379.75v11.1"/>
<path d="M1293.55 373.1h11.1M1299.1 367.55v11.1"/>
<path d="M1292.95 376.2h11.1M1298.5 370.65v11.1"/>
<path d="M1296.95 370.6h11.1M1302.5 365.05v11.1"/>
<path d="M1297.95 378.1h11.1M1303.5 372.55v11.1"/>
<path d="M1304.35 371.2h11.1M1309.9 365.65v11.1"/>
<path d="M1316.05 374.1h11.1M1321.6 368.55v11.1"/>
<path d="M1324.75 389.3h11.1M1330.3 383.75v11.1"/>
<path d="M1334.75 356.9h11.1M1340.3 351.35v11.1"/>
<path d="M1225.75 423.3h11.1M1231.3 417.75v11.1"/>
<path d="M1200.95 430.4h11.1M1206.5 424.85v11.1"/>
<path d="M1191.95 436.3h11.1M1197.5 430.75v11.1"/>
<path d="M1216.25 443.8h11.1M1221.8 438.25v11.1"/>
<path d="M1210.35 451h11.1M1215.9 445.45v11.1"/>
<path d="M1225.45 451.3h11.1M1231 445.75v11.1"/>
<path d="M1269.45 454.6h11.1M1275 449.05v11.1"/>
</g>
<path d="M1179.6 159.72L1187.64 164.47L1195.68 169.2L1203.72 173.9L1211.76 178.57L1219.8 183.2L1227.84 187.78L1235.88 192.31L1243.92 196.77L1251.96 201.16L1260 205.46L1268.04 209.64L1276.08 213.71L1284.12 217.63L1292.16 221.4L1300.2 225.01L1308.24 228.46L1316.28 231.74L1324.32 234.87L1332.36 237.87L1340.4 240.75L1348.44 243.52L1356.48 246.21L1364.52 248.82L1372.56 251.37L1380.6 253.87L1388.64 256.32L1396.68 258.74L1404.72 261.13L1412.76 263.49L1420.8 265.83L1428.84 268.15L1436.88 270.45L1444.92 272.74L1452.96 275.02L1461 277.28L1469.04 279.54L1477.08 281.78L1485.12 284.02L1493.16 286.26L1501.2 288.48L1501.2 362.52L1493.16 357.65L1485.12 352.79L1477.08 347.93L1469.04 343.08L1461 338.24L1452.96 333.41L1444.92 328.59L1436.88 323.79L1428.84 319L1420.8 314.22L1412.76 309.46L1404.72 304.73L1396.68 300.02L1388.64 295.35L1380.6 290.71L1372.56 286.11L1364.52 281.57L1356.48 277.08L1348.44 272.67L1340.4 268.35L1332.36 264.14L1324.32 260.04L1316.28 256.08L1308.24 252.26L1300.2 248.61L1292.16 245.13L1284.12 241.8L1276.08 238.63L1268.04 235.6L1260 232.69L1251.96 229.89L1243.92 227.19L1235.88 224.56L1227.84 221.99L1219.8 219.48L1211.76 217.01L1203.72 214.59L1195.68 212.19L1187.64 209.82L1179.6 207.48Z" fill="#999999" fill-opacity="0.275"/>
<line x1="1179.6" y1="183.6" x2="1501.2" y2="325.5" stroke="#F6736A" stroke-width="3.8"/>
<path d="M1106.74 221.94L1114.11 224.35L1121.49 226.75L1128.87 229.14L1136.24 231.51L1143.62 233.87L1151 236.21L1158.38 238.52L1165.75 240.81L1173.13 243.06L1180.51 245.27L1187.88 247.43L1195.26 249.52L1202.64 251.54L1210.02 253.46L1217.39 255.26L1224.77 256.92L1232.15 258.4L1239.53 259.69L1246.9 260.78L1254.28 261.64L1261.66 262.31L1269.03 262.79L1276.41 263.11L1283.79 263.29L1291.17 263.37L1298.54 263.35L1305.92 263.27L1313.3 263.13L1320.68 262.94L1328.05 262.71L1335.43 262.45L1342.81 262.17L1350.18 261.86L1357.56 261.54L1364.94 261.2L1372.32 260.84L1379.69 260.48L1387.07 260.11L1394.45 259.73L1401.83 259.34L1401.83 325.66L1394.45 323.23L1387.07 320.81L1379.69 318.4L1372.32 316L1364.94 313.6L1357.56 311.22L1350.18 308.86L1342.81 306.51L1335.43 304.19L1328.05 301.89L1320.68 299.62L1313.3 297.39L1305.92 295.21L1298.54 293.09L1291.17 291.03L1283.79 289.07L1276.41 287.21L1269.03 285.49L1261.66 283.93L1254.28 282.56L1246.9 281.38L1239.53 280.43L1232.15 279.68L1224.77 279.12L1217.39 278.74L1210.02 278.5L1202.64 278.38L1195.26 278.36L1187.88 278.41L1180.51 278.53L1173.13 278.7L1165.75 278.91L1158.38 279.16L1151 279.43L1143.62 279.73L1136.24 280.05L1128.87 280.38L1121.49 280.73L1114.11 281.09L1106.74 281.46Z" fill="#999999" fill-opacity="0.275"/>
<line x1="1106.74" y1="251.7" x2="1401.83" y2="292.5" stroke="#10BCC3" stroke-width="3.8"/>
</g>
<path d="M1087.7 58.9V473.85M1520.4 58.9V473.85" fill="none" stroke="#464646" stroke-width="1.4"/>
<path d="M1087.7 59.4H1520.4M1087.7 473.35H1520.4" fill="none" stroke="#464646" stroke-width="1.05"/>
<path d="M1117.5 473.2v5.4M1252 473.2v5.4M1386.6 473.2v5.4M1087.7 189.9h-5.4M1087.7 344.9h-5.4" stroke="#202020" stroke-width="2.1" fill="none"/>
<g font-size="15.9" fill="#3d3d3d">
<text transform="translate(1117.5,493.7) scale(0.99,1)" text-anchor="middle">14</text>
<text transform="translate(1252,493.7) scale(0.99,1)" text-anchor="middle">16</text>
<text transform="translate(1386.6,493.7) scale(0.99,1)" text-anchor="middle">18</text>
<text transform="translate(1078.2,196.2) scale(0.99,1)" text-anchor="end">-50</text>
<text transform="translate(1078.2,351.2) scale(0.99,1)" text-anchor="end">-60</text>
</g>
</g>
<g fill="#000000"><text transform="translate(-0.9,23.95) scale(1.033,1)" font-size="29.7" font-weight="bold">A</text>
<text transform="translate(513.1,23.95) scale(0.98,1)" font-size="29.7" font-weight="bold">B</text>
<text transform="translate(1025,23.95) scale(0.98,1)" font-size="29.7" font-weight="bold">C</text>
<text transform="translate(98.9,44.2) scale(1.015,1)" font-size="23.1" word-spacing="0.9">Mean Aggregation Depth</text>
<text transform="translate(616,44.2) scale(1.015,1)" font-size="23.1" word-spacing="0.9">Mean Aggregation Coverage</text>
<text transform="translate(1126,44.2) scale(1.015,1)" font-size="23.1" word-spacing="0.9">Mean Aggregation Density</text>
<text transform="translate(17.1,266.2) rotate(-90) scale(0.961,1)" font-size="20.6" text-anchor="middle">Mean Agg. Depth (m)</text>
<text transform="translate(529.3,266.2) rotate(-90) scale(0.961,1)" font-size="20.6" text-anchor="middle">Mean Agg. Coverage (%)</text>
<text transform="translate(1042.1,400.65) rotate(-90) scale(0.953,1)" font-size="20.6">Mean Agg. Density ( S<tspan font-size="14.5" dy="4.2" dx="2">v</tspan><tspan dy="-4.2" dx="2.5"> mean)</tspan></text>
<text transform="translate(793.4,516.4) scale(0.961,1)" font-size="20.6" text-anchor="middle">Mean Temperature (°C)</text></g>
<g id="legend">
<rect x="909.9" y="75.7" width="82.9" height="101.6" fill="#ffffff" fill-opacity="0.82" stroke="#2e2e2e" stroke-width="1.4"/>
<text transform="translate(918.3,99.2) scale(1.017,1)" font-size="20.4" fill="#000000">Cluster</text>
<rect x="926.8" y="111.3" width="20.1" height="19.8" fill="#F7A5A0" stroke="#F59A94" stroke-width="1"/>
<rect x="926.8" y="146.3" width="20.1" height="19.8" fill="#76CCD3" stroke="#60C5CD" stroke-width="1"/>
<text x="964.4" y="127.9" font-size="19.8" fill="#000000">A</text>
<text x="964.4" y="162.8" font-size="19.8" fill="#000000">B</text>
</g>
</svg>
</body></html>
